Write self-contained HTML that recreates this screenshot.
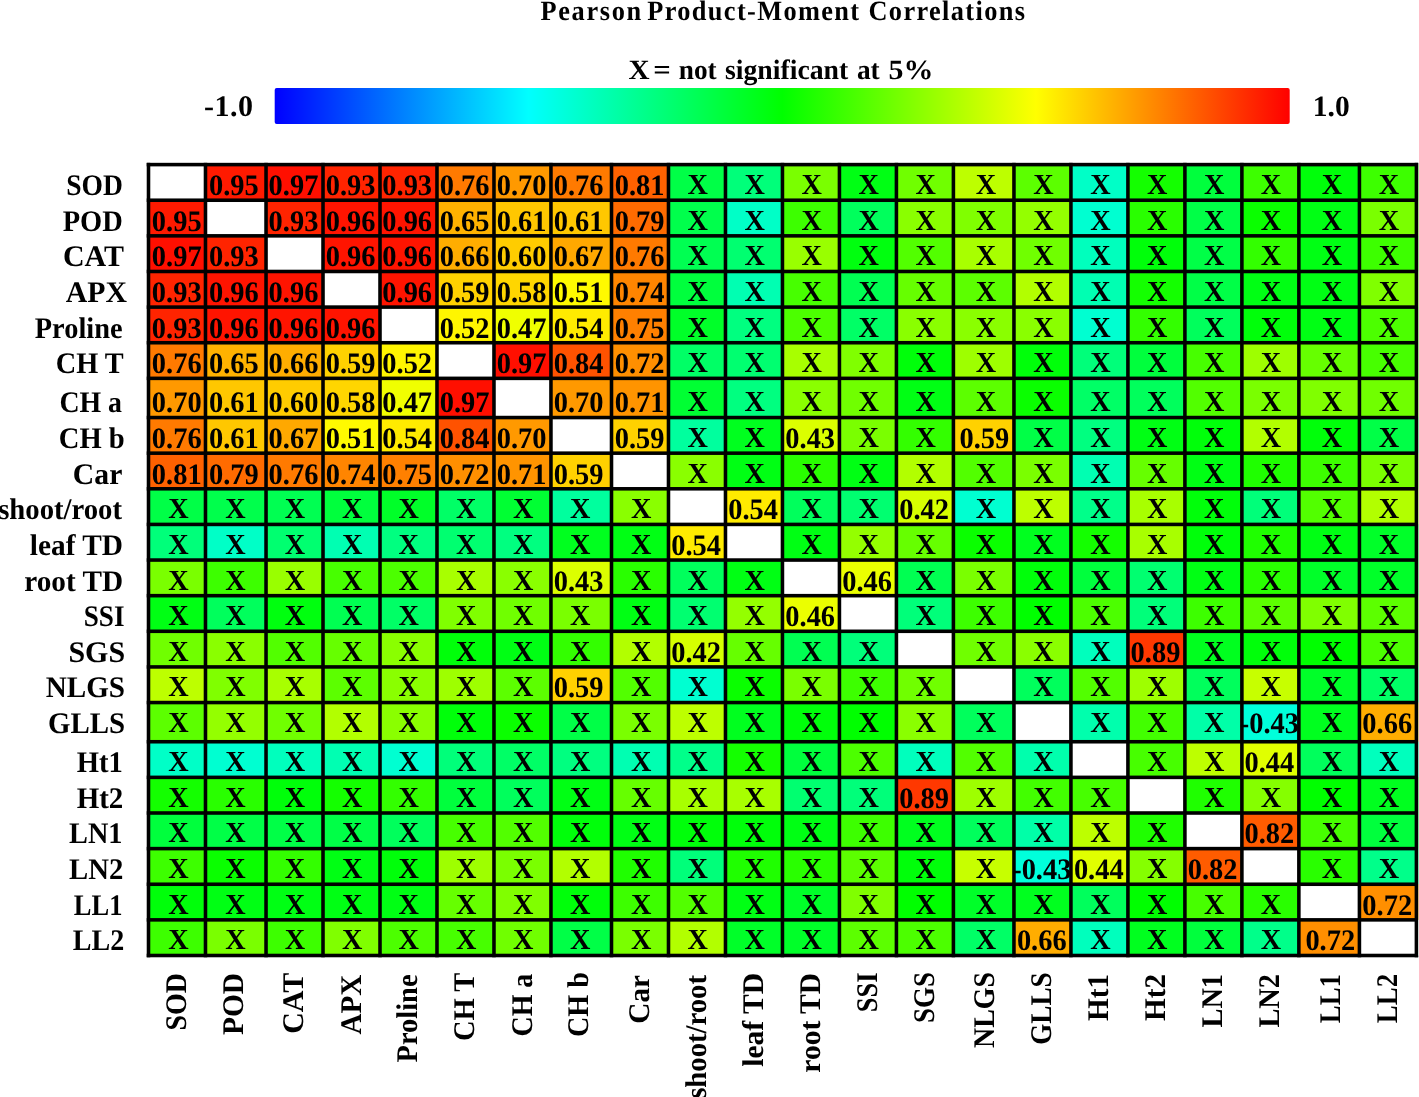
<!DOCTYPE html><html><head><meta charset="utf-8"><style>html,body{margin:0;padding:0;background:#fff;width:1419px;height:1097px;overflow:hidden}svg{display:block}text{font-family:"Liberation Serif",serif;font-weight:bold}</style></head><body>
<svg style="will-change:transform" width="1419" height="1097" viewBox="0 0 1419 1097" text-rendering="geometricPrecision" font-size="28">
<text transform="translate(540.46,19.8) scale(0.94,1)" letter-spacing="1.791">Pearson</text>
<text transform="translate(647.26,19.8) scale(0.94,1)" letter-spacing="1.465">Product-Moment</text>
<text transform="translate(868.46,19.8) scale(0.94,1)" letter-spacing="1.464">Correlations</text>
<text transform="translate(628.46,78.9) scale(1.042,1)">X</text>
<text transform="translate(653.20,78.9) scale(1.100,1)">=</text>
<text transform="translate(678.83,78.9) scale(0.973,1)">not</text>
<text transform="translate(725.01,78.9) scale(0.990,1)">significant</text>
<text transform="translate(856.92,78.9) scale(0.977,1)">at</text>
<text transform="translate(888.43,78.9) scale(1.068,1)">5%</text>
<defs><linearGradient id="cb" x1="0" x2="1" y1="0" y2="0"><stop offset="0" stop-color="#0000ff"/><stop offset="0.25" stop-color="#00ffff"/><stop offset="0.5" stop-color="#00ff00"/><stop offset="0.75" stop-color="#ffff00"/><stop offset="1" stop-color="#ff0000"/></linearGradient></defs>
<rect x="274.7" y="88" width="1015" height="35.9" rx="2" fill="url(#cb)"/>
<text x="253.5" y="116.4" font-size="30" text-anchor="end" letter-spacing="0.5">-1.0</text>
<text x="1312.8" y="116.3" font-size="29.5">1.0</text>
<rect x="148.50" y="164.60" width="56.98" height="35.63" fill="#ffffff"/>
<rect x="205.48" y="164.60" width="60.55" height="35.63" fill="rgb(255,26,0)"/>
<rect x="266.03" y="164.60" width="56.98" height="35.63" fill="rgb(255,15,0)"/>
<rect x="323.01" y="164.60" width="56.98" height="35.63" fill="rgb(255,36,0)"/>
<rect x="380.00" y="164.60" width="56.98" height="35.63" fill="rgb(255,36,0)"/>
<rect x="436.98" y="164.60" width="56.98" height="35.63" fill="rgb(255,122,0)"/>
<rect x="493.97" y="164.60" width="56.98" height="35.63" fill="rgb(255,153,0)"/>
<rect x="550.95" y="164.60" width="60.55" height="35.63" fill="rgb(255,122,0)"/>
<rect x="611.50" y="164.60" width="56.98" height="35.63" fill="rgb(255,97,0)"/>
<rect x="668.48" y="164.60" width="56.98" height="35.63" fill="rgb(0,255,71)"/>
<rect x="725.47" y="164.60" width="56.98" height="35.63" fill="rgb(0,255,122)"/>
<rect x="782.45" y="164.60" width="56.98" height="35.63" fill="rgb(122,255,0)"/>
<rect x="839.43" y="164.60" width="56.98" height="35.63" fill="rgb(0,255,20)"/>
<rect x="896.42" y="164.60" width="56.98" height="35.63" fill="rgb(112,255,0)"/>
<rect x="953.40" y="164.60" width="60.55" height="35.63" fill="rgb(189,255,0)"/>
<rect x="1013.95" y="164.60" width="56.98" height="35.63" fill="rgb(92,255,0)"/>
<rect x="1070.93" y="164.60" width="56.98" height="35.63" fill="rgb(0,255,199)"/>
<rect x="1127.92" y="164.60" width="56.98" height="35.63" fill="rgb(20,255,0)"/>
<rect x="1184.90" y="164.60" width="56.98" height="35.63" fill="rgb(0,255,61)"/>
<rect x="1241.89" y="164.60" width="56.98" height="35.63" fill="rgb(61,255,0)"/>
<rect x="1298.87" y="164.60" width="60.55" height="35.63" fill="rgb(0,255,10)"/>
<rect x="1359.42" y="164.60" width="56.98" height="35.63" fill="rgb(61,255,0)"/>
<rect x="148.50" y="200.23" width="56.98" height="35.63" fill="rgb(255,26,0)"/>
<rect x="205.48" y="200.23" width="60.55" height="35.63" fill="#ffffff"/>
<rect x="266.03" y="200.23" width="56.98" height="35.63" fill="rgb(255,36,0)"/>
<rect x="323.01" y="200.23" width="56.98" height="35.63" fill="rgb(255,20,0)"/>
<rect x="380.00" y="200.23" width="56.98" height="35.63" fill="rgb(255,20,0)"/>
<rect x="436.98" y="200.23" width="56.98" height="35.63" fill="rgb(255,178,0)"/>
<rect x="493.97" y="200.23" width="56.98" height="35.63" fill="rgb(255,199,0)"/>
<rect x="550.95" y="200.23" width="60.55" height="35.63" fill="rgb(255,199,0)"/>
<rect x="611.50" y="200.23" width="56.98" height="35.63" fill="rgb(255,107,0)"/>
<rect x="668.48" y="200.23" width="56.98" height="35.63" fill="rgb(0,255,76)"/>
<rect x="725.47" y="200.23" width="56.98" height="35.63" fill="rgb(0,255,199)"/>
<rect x="782.45" y="200.23" width="56.98" height="35.63" fill="rgb(61,255,0)"/>
<rect x="839.43" y="200.23" width="56.98" height="35.63" fill="rgb(0,255,92)"/>
<rect x="896.42" y="200.23" width="56.98" height="35.63" fill="rgb(138,255,0)"/>
<rect x="953.40" y="200.23" width="60.55" height="35.63" fill="rgb(128,255,0)"/>
<rect x="1013.95" y="200.23" width="56.98" height="35.63" fill="rgb(148,255,0)"/>
<rect x="1070.93" y="200.23" width="56.98" height="35.63" fill="rgb(0,255,209)"/>
<rect x="1127.92" y="200.23" width="56.98" height="35.63" fill="rgb(41,255,0)"/>
<rect x="1184.90" y="200.23" width="56.98" height="35.63" fill="rgb(0,255,71)"/>
<rect x="1241.89" y="200.23" width="56.98" height="35.63" fill="rgb(10,255,0)"/>
<rect x="1298.87" y="200.23" width="60.55" height="35.63" fill="rgb(0,255,20)"/>
<rect x="1359.42" y="200.23" width="56.98" height="35.63" fill="rgb(122,255,0)"/>
<rect x="148.50" y="235.85" width="56.98" height="35.63" fill="rgb(255,15,0)"/>
<rect x="205.48" y="235.85" width="60.55" height="35.63" fill="rgb(255,36,0)"/>
<rect x="266.03" y="235.85" width="56.98" height="35.63" fill="#ffffff"/>
<rect x="323.01" y="235.85" width="56.98" height="35.63" fill="rgb(255,20,0)"/>
<rect x="380.00" y="235.85" width="56.98" height="35.63" fill="rgb(255,20,0)"/>
<rect x="436.98" y="235.85" width="56.98" height="35.63" fill="rgb(255,173,0)"/>
<rect x="493.97" y="235.85" width="56.98" height="35.63" fill="rgb(255,204,0)"/>
<rect x="550.95" y="235.85" width="60.55" height="35.63" fill="rgb(255,168,0)"/>
<rect x="611.50" y="235.85" width="56.98" height="35.63" fill="rgb(255,122,0)"/>
<rect x="668.48" y="235.85" width="56.98" height="35.63" fill="rgb(0,255,82)"/>
<rect x="725.47" y="235.85" width="56.98" height="35.63" fill="rgb(0,255,112)"/>
<rect x="782.45" y="235.85" width="56.98" height="35.63" fill="rgb(153,255,0)"/>
<rect x="839.43" y="235.85" width="56.98" height="35.63" fill="rgb(0,255,15)"/>
<rect x="896.42" y="235.85" width="56.98" height="35.63" fill="rgb(82,255,0)"/>
<rect x="953.40" y="235.85" width="60.55" height="35.63" fill="rgb(168,255,0)"/>
<rect x="1013.95" y="235.85" width="56.98" height="35.63" fill="rgb(112,255,0)"/>
<rect x="1070.93" y="235.85" width="56.98" height="35.63" fill="rgb(0,255,189)"/>
<rect x="1127.92" y="235.85" width="56.98" height="35.63" fill="rgb(0,255,10)"/>
<rect x="1184.90" y="235.85" width="56.98" height="35.63" fill="rgb(0,255,71)"/>
<rect x="1241.89" y="235.85" width="56.98" height="35.63" fill="rgb(51,255,0)"/>
<rect x="1298.87" y="235.85" width="60.55" height="35.63" fill="rgb(0,255,20)"/>
<rect x="1359.42" y="235.85" width="56.98" height="35.63" fill="rgb(61,255,0)"/>
<rect x="148.50" y="271.48" width="56.98" height="35.63" fill="rgb(255,36,0)"/>
<rect x="205.48" y="271.48" width="60.55" height="35.63" fill="rgb(255,20,0)"/>
<rect x="266.03" y="271.48" width="56.98" height="35.63" fill="rgb(255,20,0)"/>
<rect x="323.01" y="271.48" width="56.98" height="35.63" fill="#ffffff"/>
<rect x="380.00" y="271.48" width="56.98" height="35.63" fill="rgb(255,20,0)"/>
<rect x="436.98" y="271.48" width="56.98" height="35.63" fill="rgb(255,209,0)"/>
<rect x="493.97" y="271.48" width="56.98" height="35.63" fill="rgb(255,214,0)"/>
<rect x="550.95" y="271.48" width="60.55" height="35.63" fill="rgb(255,250,0)"/>
<rect x="611.50" y="271.48" width="56.98" height="35.63" fill="rgb(255,133,0)"/>
<rect x="668.48" y="271.48" width="56.98" height="35.63" fill="rgb(0,255,61)"/>
<rect x="725.47" y="271.48" width="56.98" height="35.63" fill="rgb(0,255,178)"/>
<rect x="782.45" y="271.48" width="56.98" height="35.63" fill="rgb(71,255,0)"/>
<rect x="839.43" y="271.48" width="56.98" height="35.63" fill="rgb(0,255,82)"/>
<rect x="896.42" y="271.48" width="56.98" height="35.63" fill="rgb(102,255,0)"/>
<rect x="953.40" y="271.48" width="60.55" height="35.63" fill="rgb(92,255,0)"/>
<rect x="1013.95" y="271.48" width="56.98" height="35.63" fill="rgb(178,255,0)"/>
<rect x="1070.93" y="271.48" width="56.98" height="35.63" fill="rgb(0,255,178)"/>
<rect x="1127.92" y="271.48" width="56.98" height="35.63" fill="rgb(20,255,0)"/>
<rect x="1184.90" y="271.48" width="56.98" height="35.63" fill="rgb(0,255,71)"/>
<rect x="1241.89" y="271.48" width="56.98" height="35.63" fill="rgb(0,255,20)"/>
<rect x="1298.87" y="271.48" width="60.55" height="35.63" fill="rgb(0,255,20)"/>
<rect x="1359.42" y="271.48" width="56.98" height="35.63" fill="rgb(128,255,0)"/>
<rect x="148.50" y="307.10" width="56.98" height="35.63" fill="rgb(255,36,0)"/>
<rect x="205.48" y="307.10" width="60.55" height="35.63" fill="rgb(255,20,0)"/>
<rect x="266.03" y="307.10" width="56.98" height="35.63" fill="rgb(255,20,0)"/>
<rect x="323.01" y="307.10" width="56.98" height="35.63" fill="rgb(255,20,0)"/>
<rect x="380.00" y="307.10" width="56.98" height="35.63" fill="#ffffff"/>
<rect x="436.98" y="307.10" width="56.98" height="35.63" fill="rgb(255,245,0)"/>
<rect x="493.97" y="307.10" width="56.98" height="35.63" fill="rgb(240,255,0)"/>
<rect x="550.95" y="307.10" width="60.55" height="35.63" fill="rgb(255,235,0)"/>
<rect x="611.50" y="307.10" width="56.98" height="35.63" fill="rgb(255,128,0)"/>
<rect x="668.48" y="307.10" width="56.98" height="35.63" fill="rgb(0,255,41)"/>
<rect x="725.47" y="307.10" width="56.98" height="35.63" fill="rgb(0,255,128)"/>
<rect x="782.45" y="307.10" width="56.98" height="35.63" fill="rgb(76,255,0)"/>
<rect x="839.43" y="307.10" width="56.98" height="35.63" fill="rgb(0,255,102)"/>
<rect x="896.42" y="307.10" width="56.98" height="35.63" fill="rgb(138,255,0)"/>
<rect x="953.40" y="307.10" width="60.55" height="35.63" fill="rgb(138,255,0)"/>
<rect x="1013.95" y="307.10" width="56.98" height="35.63" fill="rgb(138,255,0)"/>
<rect x="1070.93" y="307.10" width="56.98" height="35.63" fill="rgb(0,255,209)"/>
<rect x="1127.92" y="307.10" width="56.98" height="35.63" fill="rgb(51,255,0)"/>
<rect x="1184.90" y="307.10" width="56.98" height="35.63" fill="rgb(0,255,92)"/>
<rect x="1241.89" y="307.10" width="56.98" height="35.63" fill="rgb(0,255,10)"/>
<rect x="1298.87" y="307.10" width="60.55" height="35.63" fill="rgb(0,255,20)"/>
<rect x="1359.42" y="307.10" width="56.98" height="35.63" fill="rgb(76,255,0)"/>
<rect x="148.50" y="342.73" width="56.98" height="35.63" fill="rgb(255,122,0)"/>
<rect x="205.48" y="342.73" width="60.55" height="35.63" fill="rgb(255,178,0)"/>
<rect x="266.03" y="342.73" width="56.98" height="35.63" fill="rgb(255,173,0)"/>
<rect x="323.01" y="342.73" width="56.98" height="35.63" fill="rgb(255,209,0)"/>
<rect x="380.00" y="342.73" width="56.98" height="35.63" fill="rgb(255,245,0)"/>
<rect x="436.98" y="342.73" width="56.98" height="35.63" fill="#ffffff"/>
<rect x="493.97" y="342.73" width="56.98" height="35.63" fill="rgb(255,15,0)"/>
<rect x="550.95" y="342.73" width="60.55" height="35.63" fill="rgb(255,82,0)"/>
<rect x="611.50" y="342.73" width="56.98" height="35.63" fill="rgb(255,143,0)"/>
<rect x="668.48" y="342.73" width="56.98" height="35.63" fill="rgb(0,255,102)"/>
<rect x="725.47" y="342.73" width="56.98" height="35.63" fill="rgb(0,255,112)"/>
<rect x="782.45" y="342.73" width="56.98" height="35.63" fill="rgb(168,255,0)"/>
<rect x="839.43" y="342.73" width="56.98" height="35.63" fill="rgb(128,255,0)"/>
<rect x="896.42" y="342.73" width="56.98" height="35.63" fill="rgb(0,255,10)"/>
<rect x="953.40" y="342.73" width="60.55" height="35.63" fill="rgb(158,255,0)"/>
<rect x="1013.95" y="342.73" width="56.98" height="35.63" fill="rgb(0,255,10)"/>
<rect x="1070.93" y="342.73" width="56.98" height="35.63" fill="rgb(0,255,122)"/>
<rect x="1127.92" y="342.73" width="56.98" height="35.63" fill="rgb(0,255,61)"/>
<rect x="1184.90" y="342.73" width="56.98" height="35.63" fill="rgb(71,255,0)"/>
<rect x="1241.89" y="342.73" width="56.98" height="35.63" fill="rgb(158,255,0)"/>
<rect x="1298.87" y="342.73" width="60.55" height="35.63" fill="rgb(102,255,0)"/>
<rect x="1359.42" y="342.73" width="56.98" height="35.63" fill="rgb(71,255,0)"/>
<rect x="148.50" y="378.36" width="56.98" height="39.19" fill="rgb(255,153,0)"/>
<rect x="205.48" y="378.36" width="60.55" height="39.19" fill="rgb(255,199,0)"/>
<rect x="266.03" y="378.36" width="56.98" height="39.19" fill="rgb(255,204,0)"/>
<rect x="323.01" y="378.36" width="56.98" height="39.19" fill="rgb(255,214,0)"/>
<rect x="380.00" y="378.36" width="56.98" height="39.19" fill="rgb(240,255,0)"/>
<rect x="436.98" y="378.36" width="56.98" height="39.19" fill="rgb(255,15,0)"/>
<rect x="493.97" y="378.36" width="56.98" height="39.19" fill="#ffffff"/>
<rect x="550.95" y="378.36" width="60.55" height="39.19" fill="rgb(255,153,0)"/>
<rect x="611.50" y="378.36" width="56.98" height="39.19" fill="rgb(255,148,0)"/>
<rect x="668.48" y="378.36" width="56.98" height="39.19" fill="rgb(0,255,51)"/>
<rect x="725.47" y="378.36" width="56.98" height="39.19" fill="rgb(0,255,128)"/>
<rect x="782.45" y="378.36" width="56.98" height="39.19" fill="rgb(138,255,0)"/>
<rect x="839.43" y="378.36" width="56.98" height="39.19" fill="rgb(112,255,0)"/>
<rect x="896.42" y="378.36" width="56.98" height="39.19" fill="rgb(0,255,20)"/>
<rect x="953.40" y="378.36" width="60.55" height="39.19" fill="rgb(92,255,0)"/>
<rect x="1013.95" y="378.36" width="56.98" height="39.19" fill="rgb(10,255,0)"/>
<rect x="1070.93" y="378.36" width="56.98" height="39.19" fill="rgb(0,255,102)"/>
<rect x="1127.92" y="378.36" width="56.98" height="39.19" fill="rgb(0,255,92)"/>
<rect x="1184.90" y="378.36" width="56.98" height="39.19" fill="rgb(82,255,0)"/>
<rect x="1241.89" y="378.36" width="56.98" height="39.19" fill="rgb(122,255,0)"/>
<rect x="1298.87" y="378.36" width="60.55" height="39.19" fill="rgb(128,255,0)"/>
<rect x="1359.42" y="378.36" width="56.98" height="39.19" fill="rgb(112,255,0)"/>
<rect x="148.50" y="417.55" width="56.98" height="35.63" fill="rgb(255,122,0)"/>
<rect x="205.48" y="417.55" width="60.55" height="35.63" fill="rgb(255,199,0)"/>
<rect x="266.03" y="417.55" width="56.98" height="35.63" fill="rgb(255,168,0)"/>
<rect x="323.01" y="417.55" width="56.98" height="35.63" fill="rgb(255,250,0)"/>
<rect x="380.00" y="417.55" width="56.98" height="35.63" fill="rgb(255,235,0)"/>
<rect x="436.98" y="417.55" width="56.98" height="35.63" fill="rgb(255,82,0)"/>
<rect x="493.97" y="417.55" width="56.98" height="35.63" fill="rgb(255,153,0)"/>
<rect x="550.95" y="417.55" width="60.55" height="35.63" fill="#ffffff"/>
<rect x="611.50" y="417.55" width="56.98" height="35.63" fill="rgb(255,209,0)"/>
<rect x="668.48" y="417.55" width="56.98" height="35.63" fill="rgb(0,255,158)"/>
<rect x="725.47" y="417.55" width="56.98" height="35.63" fill="rgb(0,255,31)"/>
<rect x="782.45" y="417.55" width="56.98" height="35.63" fill="rgb(219,255,0)"/>
<rect x="839.43" y="417.55" width="56.98" height="35.63" fill="rgb(122,255,0)"/>
<rect x="896.42" y="417.55" width="56.98" height="35.63" fill="rgb(51,255,0)"/>
<rect x="953.40" y="417.55" width="60.55" height="35.63" fill="rgb(255,209,0)"/>
<rect x="1013.95" y="417.55" width="56.98" height="35.63" fill="rgb(0,255,71)"/>
<rect x="1070.93" y="417.55" width="56.98" height="35.63" fill="rgb(0,255,128)"/>
<rect x="1127.92" y="417.55" width="56.98" height="35.63" fill="rgb(0,255,20)"/>
<rect x="1184.90" y="417.55" width="56.98" height="35.63" fill="rgb(0,255,10)"/>
<rect x="1241.89" y="417.55" width="56.98" height="35.63" fill="rgb(178,255,0)"/>
<rect x="1298.87" y="417.55" width="60.55" height="35.63" fill="rgb(0,255,10)"/>
<rect x="1359.42" y="417.55" width="56.98" height="35.63" fill="rgb(0,255,71)"/>
<rect x="148.50" y="453.17" width="56.98" height="35.63" fill="rgb(255,97,0)"/>
<rect x="205.48" y="453.17" width="60.55" height="35.63" fill="rgb(255,107,0)"/>
<rect x="266.03" y="453.17" width="56.98" height="35.63" fill="rgb(255,122,0)"/>
<rect x="323.01" y="453.17" width="56.98" height="35.63" fill="rgb(255,133,0)"/>
<rect x="380.00" y="453.17" width="56.98" height="35.63" fill="rgb(255,128,0)"/>
<rect x="436.98" y="453.17" width="56.98" height="35.63" fill="rgb(255,143,0)"/>
<rect x="493.97" y="453.17" width="56.98" height="35.63" fill="rgb(255,148,0)"/>
<rect x="550.95" y="453.17" width="60.55" height="35.63" fill="rgb(255,209,0)"/>
<rect x="611.50" y="453.17" width="56.98" height="35.63" fill="#ffffff"/>
<rect x="668.48" y="453.17" width="56.98" height="35.63" fill="rgb(138,255,0)"/>
<rect x="725.47" y="453.17" width="56.98" height="35.63" fill="rgb(0,255,20)"/>
<rect x="782.45" y="453.17" width="56.98" height="35.63" fill="rgb(41,255,0)"/>
<rect x="839.43" y="453.17" width="56.98" height="35.63" fill="rgb(0,255,20)"/>
<rect x="896.42" y="453.17" width="56.98" height="35.63" fill="rgb(178,255,0)"/>
<rect x="953.40" y="453.17" width="60.55" height="35.63" fill="rgb(82,255,0)"/>
<rect x="1013.95" y="453.17" width="56.98" height="35.63" fill="rgb(122,255,0)"/>
<rect x="1070.93" y="453.17" width="56.98" height="35.63" fill="rgb(0,255,178)"/>
<rect x="1127.92" y="453.17" width="56.98" height="35.63" fill="rgb(102,255,0)"/>
<rect x="1184.90" y="453.17" width="56.98" height="35.63" fill="rgb(0,255,20)"/>
<rect x="1241.89" y="453.17" width="56.98" height="35.63" fill="rgb(31,255,0)"/>
<rect x="1298.87" y="453.17" width="60.55" height="35.63" fill="rgb(61,255,0)"/>
<rect x="1359.42" y="453.17" width="56.98" height="35.63" fill="rgb(122,255,0)"/>
<rect x="148.50" y="488.80" width="56.98" height="35.63" fill="rgb(0,255,71)"/>
<rect x="205.48" y="488.80" width="60.55" height="35.63" fill="rgb(0,255,76)"/>
<rect x="266.03" y="488.80" width="56.98" height="35.63" fill="rgb(0,255,82)"/>
<rect x="323.01" y="488.80" width="56.98" height="35.63" fill="rgb(0,255,61)"/>
<rect x="380.00" y="488.80" width="56.98" height="35.63" fill="rgb(0,255,41)"/>
<rect x="436.98" y="488.80" width="56.98" height="35.63" fill="rgb(0,255,102)"/>
<rect x="493.97" y="488.80" width="56.98" height="35.63" fill="rgb(0,255,51)"/>
<rect x="550.95" y="488.80" width="60.55" height="35.63" fill="rgb(0,255,158)"/>
<rect x="611.50" y="488.80" width="56.98" height="35.63" fill="rgb(138,255,0)"/>
<rect x="668.48" y="488.80" width="56.98" height="35.63" fill="#ffffff"/>
<rect x="725.47" y="488.80" width="56.98" height="35.63" fill="rgb(255,235,0)"/>
<rect x="782.45" y="488.80" width="56.98" height="35.63" fill="rgb(0,255,92)"/>
<rect x="839.43" y="488.80" width="56.98" height="35.63" fill="rgb(0,255,112)"/>
<rect x="896.42" y="488.80" width="56.98" height="35.63" fill="rgb(214,255,0)"/>
<rect x="953.40" y="488.80" width="60.55" height="35.63" fill="rgb(0,255,209)"/>
<rect x="1013.95" y="488.80" width="56.98" height="35.63" fill="rgb(189,255,0)"/>
<rect x="1070.93" y="488.80" width="56.98" height="35.63" fill="rgb(0,255,138)"/>
<rect x="1127.92" y="488.80" width="56.98" height="35.63" fill="rgb(168,255,0)"/>
<rect x="1184.90" y="488.80" width="56.98" height="35.63" fill="rgb(0,255,10)"/>
<rect x="1241.89" y="488.80" width="56.98" height="35.63" fill="rgb(0,255,122)"/>
<rect x="1298.87" y="488.80" width="60.55" height="35.63" fill="rgb(82,255,0)"/>
<rect x="1359.42" y="488.80" width="56.98" height="35.63" fill="rgb(178,255,0)"/>
<rect x="148.50" y="524.42" width="56.98" height="35.63" fill="rgb(0,255,122)"/>
<rect x="205.48" y="524.42" width="60.55" height="35.63" fill="rgb(0,255,199)"/>
<rect x="266.03" y="524.42" width="56.98" height="35.63" fill="rgb(0,255,112)"/>
<rect x="323.01" y="524.42" width="56.98" height="35.63" fill="rgb(0,255,178)"/>
<rect x="380.00" y="524.42" width="56.98" height="35.63" fill="rgb(0,255,128)"/>
<rect x="436.98" y="524.42" width="56.98" height="35.63" fill="rgb(0,255,112)"/>
<rect x="493.97" y="524.42" width="56.98" height="35.63" fill="rgb(0,255,128)"/>
<rect x="550.95" y="524.42" width="60.55" height="35.63" fill="rgb(0,255,31)"/>
<rect x="611.50" y="524.42" width="56.98" height="35.63" fill="rgb(0,255,20)"/>
<rect x="668.48" y="524.42" width="56.98" height="35.63" fill="rgb(255,235,0)"/>
<rect x="725.47" y="524.42" width="56.98" height="35.63" fill="#ffffff"/>
<rect x="782.45" y="524.42" width="56.98" height="35.63" fill="rgb(0,255,20)"/>
<rect x="839.43" y="524.42" width="56.98" height="35.63" fill="rgb(148,255,0)"/>
<rect x="896.42" y="524.42" width="56.98" height="35.63" fill="rgb(102,255,0)"/>
<rect x="953.40" y="524.42" width="60.55" height="35.63" fill="rgb(10,255,0)"/>
<rect x="1013.95" y="524.42" width="56.98" height="35.63" fill="rgb(0,255,31)"/>
<rect x="1070.93" y="524.42" width="56.98" height="35.63" fill="rgb(20,255,0)"/>
<rect x="1127.92" y="524.42" width="56.98" height="35.63" fill="rgb(168,255,0)"/>
<rect x="1184.90" y="524.42" width="56.98" height="35.63" fill="rgb(0,255,10)"/>
<rect x="1241.89" y="524.42" width="56.98" height="35.63" fill="rgb(31,255,0)"/>
<rect x="1298.87" y="524.42" width="60.55" height="35.63" fill="rgb(0,255,20)"/>
<rect x="1359.42" y="524.42" width="56.98" height="35.63" fill="rgb(0,255,41)"/>
<rect x="148.50" y="560.05" width="56.98" height="35.63" fill="rgb(122,255,0)"/>
<rect x="205.48" y="560.05" width="60.55" height="35.63" fill="rgb(61,255,0)"/>
<rect x="266.03" y="560.05" width="56.98" height="35.63" fill="rgb(153,255,0)"/>
<rect x="323.01" y="560.05" width="56.98" height="35.63" fill="rgb(71,255,0)"/>
<rect x="380.00" y="560.05" width="56.98" height="35.63" fill="rgb(76,255,0)"/>
<rect x="436.98" y="560.05" width="56.98" height="35.63" fill="rgb(168,255,0)"/>
<rect x="493.97" y="560.05" width="56.98" height="35.63" fill="rgb(138,255,0)"/>
<rect x="550.95" y="560.05" width="60.55" height="35.63" fill="rgb(219,255,0)"/>
<rect x="611.50" y="560.05" width="56.98" height="35.63" fill="rgb(41,255,0)"/>
<rect x="668.48" y="560.05" width="56.98" height="35.63" fill="rgb(0,255,92)"/>
<rect x="725.47" y="560.05" width="56.98" height="35.63" fill="rgb(0,255,20)"/>
<rect x="782.45" y="560.05" width="56.98" height="35.63" fill="#ffffff"/>
<rect x="839.43" y="560.05" width="56.98" height="35.63" fill="rgb(235,255,0)"/>
<rect x="896.42" y="560.05" width="56.98" height="35.63" fill="rgb(0,255,82)"/>
<rect x="953.40" y="560.05" width="60.55" height="35.63" fill="rgb(122,255,0)"/>
<rect x="1013.95" y="560.05" width="56.98" height="35.63" fill="rgb(0,255,10)"/>
<rect x="1070.93" y="560.05" width="56.98" height="35.63" fill="rgb(0,255,61)"/>
<rect x="1127.92" y="560.05" width="56.98" height="35.63" fill="rgb(0,255,112)"/>
<rect x="1184.90" y="560.05" width="56.98" height="35.63" fill="rgb(0,255,20)"/>
<rect x="1241.89" y="560.05" width="56.98" height="35.63" fill="rgb(41,255,0)"/>
<rect x="1298.87" y="560.05" width="60.55" height="35.63" fill="rgb(0,255,41)"/>
<rect x="1359.42" y="560.05" width="56.98" height="35.63" fill="rgb(0,255,41)"/>
<rect x="148.50" y="595.68" width="56.98" height="35.63" fill="rgb(0,255,20)"/>
<rect x="205.48" y="595.68" width="60.55" height="35.63" fill="rgb(0,255,92)"/>
<rect x="266.03" y="595.68" width="56.98" height="35.63" fill="rgb(0,255,15)"/>
<rect x="323.01" y="595.68" width="56.98" height="35.63" fill="rgb(0,255,82)"/>
<rect x="380.00" y="595.68" width="56.98" height="35.63" fill="rgb(0,255,102)"/>
<rect x="436.98" y="595.68" width="56.98" height="35.63" fill="rgb(128,255,0)"/>
<rect x="493.97" y="595.68" width="56.98" height="35.63" fill="rgb(112,255,0)"/>
<rect x="550.95" y="595.68" width="60.55" height="35.63" fill="rgb(122,255,0)"/>
<rect x="611.50" y="595.68" width="56.98" height="35.63" fill="rgb(0,255,20)"/>
<rect x="668.48" y="595.68" width="56.98" height="35.63" fill="rgb(0,255,112)"/>
<rect x="725.47" y="595.68" width="56.98" height="35.63" fill="rgb(148,255,0)"/>
<rect x="782.45" y="595.68" width="56.98" height="35.63" fill="rgb(235,255,0)"/>
<rect x="839.43" y="595.68" width="56.98" height="35.63" fill="#ffffff"/>
<rect x="896.42" y="595.68" width="56.98" height="35.63" fill="rgb(0,255,122)"/>
<rect x="953.40" y="595.68" width="60.55" height="35.63" fill="rgb(61,255,0)"/>
<rect x="1013.95" y="595.68" width="56.98" height="35.63" fill="rgb(0,255,0)"/>
<rect x="1070.93" y="595.68" width="56.98" height="35.63" fill="rgb(76,255,0)"/>
<rect x="1127.92" y="595.68" width="56.98" height="35.63" fill="rgb(0,255,122)"/>
<rect x="1184.90" y="595.68" width="56.98" height="35.63" fill="rgb(61,255,0)"/>
<rect x="1241.89" y="595.68" width="56.98" height="35.63" fill="rgb(92,255,0)"/>
<rect x="1298.87" y="595.68" width="60.55" height="35.63" fill="rgb(128,255,0)"/>
<rect x="1359.42" y="595.68" width="56.98" height="35.63" fill="rgb(92,255,0)"/>
<rect x="148.50" y="631.30" width="56.98" height="35.63" fill="rgb(112,255,0)"/>
<rect x="205.48" y="631.30" width="60.55" height="35.63" fill="rgb(138,255,0)"/>
<rect x="266.03" y="631.30" width="56.98" height="35.63" fill="rgb(82,255,0)"/>
<rect x="323.01" y="631.30" width="56.98" height="35.63" fill="rgb(102,255,0)"/>
<rect x="380.00" y="631.30" width="56.98" height="35.63" fill="rgb(138,255,0)"/>
<rect x="436.98" y="631.30" width="56.98" height="35.63" fill="rgb(0,255,10)"/>
<rect x="493.97" y="631.30" width="56.98" height="35.63" fill="rgb(0,255,20)"/>
<rect x="550.95" y="631.30" width="60.55" height="35.63" fill="rgb(51,255,0)"/>
<rect x="611.50" y="631.30" width="56.98" height="35.63" fill="rgb(178,255,0)"/>
<rect x="668.48" y="631.30" width="56.98" height="35.63" fill="rgb(214,255,0)"/>
<rect x="725.47" y="631.30" width="56.98" height="35.63" fill="rgb(102,255,0)"/>
<rect x="782.45" y="631.30" width="56.98" height="35.63" fill="rgb(0,255,82)"/>
<rect x="839.43" y="631.30" width="56.98" height="35.63" fill="rgb(0,255,122)"/>
<rect x="896.42" y="631.30" width="56.98" height="35.63" fill="#ffffff"/>
<rect x="953.40" y="631.30" width="60.55" height="35.63" fill="rgb(112,255,0)"/>
<rect x="1013.95" y="631.30" width="56.98" height="35.63" fill="rgb(138,255,0)"/>
<rect x="1070.93" y="631.30" width="56.98" height="35.63" fill="rgb(0,255,189)"/>
<rect x="1127.92" y="631.30" width="56.98" height="35.63" fill="rgb(255,56,0)"/>
<rect x="1184.90" y="631.30" width="56.98" height="35.63" fill="rgb(0,255,31)"/>
<rect x="1241.89" y="631.30" width="56.98" height="35.63" fill="rgb(0,255,10)"/>
<rect x="1298.87" y="631.30" width="60.55" height="35.63" fill="rgb(0,255,0)"/>
<rect x="1359.42" y="631.30" width="56.98" height="35.63" fill="rgb(76,255,0)"/>
<rect x="148.50" y="666.93" width="56.98" height="35.63" fill="rgb(189,255,0)"/>
<rect x="205.48" y="666.93" width="60.55" height="35.63" fill="rgb(128,255,0)"/>
<rect x="266.03" y="666.93" width="56.98" height="35.63" fill="rgb(168,255,0)"/>
<rect x="323.01" y="666.93" width="56.98" height="35.63" fill="rgb(92,255,0)"/>
<rect x="380.00" y="666.93" width="56.98" height="35.63" fill="rgb(138,255,0)"/>
<rect x="436.98" y="666.93" width="56.98" height="35.63" fill="rgb(158,255,0)"/>
<rect x="493.97" y="666.93" width="56.98" height="35.63" fill="rgb(92,255,0)"/>
<rect x="550.95" y="666.93" width="60.55" height="35.63" fill="rgb(255,209,0)"/>
<rect x="611.50" y="666.93" width="56.98" height="35.63" fill="rgb(82,255,0)"/>
<rect x="668.48" y="666.93" width="56.98" height="35.63" fill="rgb(0,255,209)"/>
<rect x="725.47" y="666.93" width="56.98" height="35.63" fill="rgb(10,255,0)"/>
<rect x="782.45" y="666.93" width="56.98" height="35.63" fill="rgb(122,255,0)"/>
<rect x="839.43" y="666.93" width="56.98" height="35.63" fill="rgb(61,255,0)"/>
<rect x="896.42" y="666.93" width="56.98" height="35.63" fill="rgb(112,255,0)"/>
<rect x="953.40" y="666.93" width="60.55" height="35.63" fill="#ffffff"/>
<rect x="1013.95" y="666.93" width="56.98" height="35.63" fill="rgb(0,255,92)"/>
<rect x="1070.93" y="666.93" width="56.98" height="35.63" fill="rgb(82,255,0)"/>
<rect x="1127.92" y="666.93" width="56.98" height="35.63" fill="rgb(158,255,0)"/>
<rect x="1184.90" y="666.93" width="56.98" height="35.63" fill="rgb(0,255,92)"/>
<rect x="1241.89" y="666.93" width="56.98" height="35.63" fill="rgb(199,255,0)"/>
<rect x="1298.87" y="666.93" width="60.55" height="35.63" fill="rgb(0,255,41)"/>
<rect x="1359.42" y="666.93" width="56.98" height="35.63" fill="rgb(0,255,102)"/>
<rect x="148.50" y="702.55" width="56.98" height="39.19" fill="rgb(92,255,0)"/>
<rect x="205.48" y="702.55" width="60.55" height="39.19" fill="rgb(148,255,0)"/>
<rect x="266.03" y="702.55" width="56.98" height="39.19" fill="rgb(112,255,0)"/>
<rect x="323.01" y="702.55" width="56.98" height="39.19" fill="rgb(178,255,0)"/>
<rect x="380.00" y="702.55" width="56.98" height="39.19" fill="rgb(138,255,0)"/>
<rect x="436.98" y="702.55" width="56.98" height="39.19" fill="rgb(0,255,10)"/>
<rect x="493.97" y="702.55" width="56.98" height="39.19" fill="rgb(10,255,0)"/>
<rect x="550.95" y="702.55" width="60.55" height="39.19" fill="rgb(0,255,71)"/>
<rect x="611.50" y="702.55" width="56.98" height="39.19" fill="rgb(122,255,0)"/>
<rect x="668.48" y="702.55" width="56.98" height="39.19" fill="rgb(189,255,0)"/>
<rect x="725.47" y="702.55" width="56.98" height="39.19" fill="rgb(0,255,31)"/>
<rect x="782.45" y="702.55" width="56.98" height="39.19" fill="rgb(0,255,10)"/>
<rect x="839.43" y="702.55" width="56.98" height="39.19" fill="rgb(0,255,0)"/>
<rect x="896.42" y="702.55" width="56.98" height="39.19" fill="rgb(138,255,0)"/>
<rect x="953.40" y="702.55" width="60.55" height="39.19" fill="rgb(0,255,92)"/>
<rect x="1013.95" y="702.55" width="56.98" height="39.19" fill="#ffffff"/>
<rect x="1070.93" y="702.55" width="56.98" height="39.19" fill="rgb(0,255,173)"/>
<rect x="1127.92" y="702.55" width="56.98" height="39.19" fill="rgb(66,255,0)"/>
<rect x="1184.90" y="702.55" width="56.98" height="39.19" fill="rgb(0,255,168)"/>
<rect x="1241.89" y="702.55" width="56.98" height="39.19" fill="rgb(0,255,219)"/>
<rect x="1298.87" y="702.55" width="60.55" height="39.19" fill="rgb(0,255,31)"/>
<rect x="1359.42" y="702.55" width="56.98" height="39.19" fill="rgb(255,173,0)"/>
<rect x="148.50" y="741.74" width="56.98" height="35.63" fill="rgb(0,255,199)"/>
<rect x="205.48" y="741.74" width="60.55" height="35.63" fill="rgb(0,255,209)"/>
<rect x="266.03" y="741.74" width="56.98" height="35.63" fill="rgb(0,255,189)"/>
<rect x="323.01" y="741.74" width="56.98" height="35.63" fill="rgb(0,255,178)"/>
<rect x="380.00" y="741.74" width="56.98" height="35.63" fill="rgb(0,255,209)"/>
<rect x="436.98" y="741.74" width="56.98" height="35.63" fill="rgb(0,255,122)"/>
<rect x="493.97" y="741.74" width="56.98" height="35.63" fill="rgb(0,255,102)"/>
<rect x="550.95" y="741.74" width="60.55" height="35.63" fill="rgb(0,255,128)"/>
<rect x="611.50" y="741.74" width="56.98" height="35.63" fill="rgb(0,255,178)"/>
<rect x="668.48" y="741.74" width="56.98" height="35.63" fill="rgb(0,255,138)"/>
<rect x="725.47" y="741.74" width="56.98" height="35.63" fill="rgb(20,255,0)"/>
<rect x="782.45" y="741.74" width="56.98" height="35.63" fill="rgb(0,255,61)"/>
<rect x="839.43" y="741.74" width="56.98" height="35.63" fill="rgb(76,255,0)"/>
<rect x="896.42" y="741.74" width="56.98" height="35.63" fill="rgb(0,255,189)"/>
<rect x="953.40" y="741.74" width="60.55" height="35.63" fill="rgb(82,255,0)"/>
<rect x="1013.95" y="741.74" width="56.98" height="35.63" fill="rgb(0,255,173)"/>
<rect x="1070.93" y="741.74" width="56.98" height="35.63" fill="#ffffff"/>
<rect x="1127.92" y="741.74" width="56.98" height="35.63" fill="rgb(71,255,0)"/>
<rect x="1184.90" y="741.74" width="56.98" height="35.63" fill="rgb(189,255,0)"/>
<rect x="1241.89" y="741.74" width="56.98" height="35.63" fill="rgb(224,255,0)"/>
<rect x="1298.87" y="741.74" width="60.55" height="35.63" fill="rgb(0,255,92)"/>
<rect x="1359.42" y="741.74" width="56.98" height="35.63" fill="rgb(0,255,189)"/>
<rect x="148.50" y="777.37" width="56.98" height="35.63" fill="rgb(20,255,0)"/>
<rect x="205.48" y="777.37" width="60.55" height="35.63" fill="rgb(41,255,0)"/>
<rect x="266.03" y="777.37" width="56.98" height="35.63" fill="rgb(0,255,10)"/>
<rect x="323.01" y="777.37" width="56.98" height="35.63" fill="rgb(20,255,0)"/>
<rect x="380.00" y="777.37" width="56.98" height="35.63" fill="rgb(51,255,0)"/>
<rect x="436.98" y="777.37" width="56.98" height="35.63" fill="rgb(0,255,61)"/>
<rect x="493.97" y="777.37" width="56.98" height="35.63" fill="rgb(0,255,92)"/>
<rect x="550.95" y="777.37" width="60.55" height="35.63" fill="rgb(0,255,20)"/>
<rect x="611.50" y="777.37" width="56.98" height="35.63" fill="rgb(102,255,0)"/>
<rect x="668.48" y="777.37" width="56.98" height="35.63" fill="rgb(168,255,0)"/>
<rect x="725.47" y="777.37" width="56.98" height="35.63" fill="rgb(168,255,0)"/>
<rect x="782.45" y="777.37" width="56.98" height="35.63" fill="rgb(0,255,112)"/>
<rect x="839.43" y="777.37" width="56.98" height="35.63" fill="rgb(0,255,122)"/>
<rect x="896.42" y="777.37" width="56.98" height="35.63" fill="rgb(255,56,0)"/>
<rect x="953.40" y="777.37" width="60.55" height="35.63" fill="rgb(158,255,0)"/>
<rect x="1013.95" y="777.37" width="56.98" height="35.63" fill="rgb(66,255,0)"/>
<rect x="1070.93" y="777.37" width="56.98" height="35.63" fill="rgb(71,255,0)"/>
<rect x="1127.92" y="777.37" width="56.98" height="35.63" fill="#ffffff"/>
<rect x="1184.90" y="777.37" width="56.98" height="35.63" fill="rgb(31,255,0)"/>
<rect x="1241.89" y="777.37" width="56.98" height="35.63" fill="rgb(133,255,0)"/>
<rect x="1298.87" y="777.37" width="60.55" height="35.63" fill="rgb(0,255,0)"/>
<rect x="1359.42" y="777.37" width="56.98" height="35.63" fill="rgb(0,255,31)"/>
<rect x="148.50" y="813.00" width="56.98" height="35.63" fill="rgb(0,255,61)"/>
<rect x="205.48" y="813.00" width="60.55" height="35.63" fill="rgb(0,255,71)"/>
<rect x="266.03" y="813.00" width="56.98" height="35.63" fill="rgb(0,255,71)"/>
<rect x="323.01" y="813.00" width="56.98" height="35.63" fill="rgb(0,255,71)"/>
<rect x="380.00" y="813.00" width="56.98" height="35.63" fill="rgb(0,255,92)"/>
<rect x="436.98" y="813.00" width="56.98" height="35.63" fill="rgb(71,255,0)"/>
<rect x="493.97" y="813.00" width="56.98" height="35.63" fill="rgb(82,255,0)"/>
<rect x="550.95" y="813.00" width="60.55" height="35.63" fill="rgb(0,255,10)"/>
<rect x="611.50" y="813.00" width="56.98" height="35.63" fill="rgb(0,255,20)"/>
<rect x="668.48" y="813.00" width="56.98" height="35.63" fill="rgb(0,255,10)"/>
<rect x="725.47" y="813.00" width="56.98" height="35.63" fill="rgb(0,255,10)"/>
<rect x="782.45" y="813.00" width="56.98" height="35.63" fill="rgb(0,255,20)"/>
<rect x="839.43" y="813.00" width="56.98" height="35.63" fill="rgb(61,255,0)"/>
<rect x="896.42" y="813.00" width="56.98" height="35.63" fill="rgb(0,255,31)"/>
<rect x="953.40" y="813.00" width="60.55" height="35.63" fill="rgb(0,255,92)"/>
<rect x="1013.95" y="813.00" width="56.98" height="35.63" fill="rgb(0,255,168)"/>
<rect x="1070.93" y="813.00" width="56.98" height="35.63" fill="rgb(189,255,0)"/>
<rect x="1127.92" y="813.00" width="56.98" height="35.63" fill="rgb(31,255,0)"/>
<rect x="1184.90" y="813.00" width="56.98" height="35.63" fill="#ffffff"/>
<rect x="1241.89" y="813.00" width="56.98" height="35.63" fill="rgb(255,92,0)"/>
<rect x="1298.87" y="813.00" width="60.55" height="35.63" fill="rgb(71,255,0)"/>
<rect x="1359.42" y="813.00" width="56.98" height="35.63" fill="rgb(0,255,61)"/>
<rect x="148.50" y="848.62" width="56.98" height="35.63" fill="rgb(61,255,0)"/>
<rect x="205.48" y="848.62" width="60.55" height="35.63" fill="rgb(10,255,0)"/>
<rect x="266.03" y="848.62" width="56.98" height="35.63" fill="rgb(51,255,0)"/>
<rect x="323.01" y="848.62" width="56.98" height="35.63" fill="rgb(0,255,20)"/>
<rect x="380.00" y="848.62" width="56.98" height="35.63" fill="rgb(0,255,10)"/>
<rect x="436.98" y="848.62" width="56.98" height="35.63" fill="rgb(158,255,0)"/>
<rect x="493.97" y="848.62" width="56.98" height="35.63" fill="rgb(122,255,0)"/>
<rect x="550.95" y="848.62" width="60.55" height="35.63" fill="rgb(178,255,0)"/>
<rect x="611.50" y="848.62" width="56.98" height="35.63" fill="rgb(31,255,0)"/>
<rect x="668.48" y="848.62" width="56.98" height="35.63" fill="rgb(0,255,122)"/>
<rect x="725.47" y="848.62" width="56.98" height="35.63" fill="rgb(31,255,0)"/>
<rect x="782.45" y="848.62" width="56.98" height="35.63" fill="rgb(41,255,0)"/>
<rect x="839.43" y="848.62" width="56.98" height="35.63" fill="rgb(92,255,0)"/>
<rect x="896.42" y="848.62" width="56.98" height="35.63" fill="rgb(0,255,10)"/>
<rect x="953.40" y="848.62" width="60.55" height="35.63" fill="rgb(199,255,0)"/>
<rect x="1013.95" y="848.62" width="56.98" height="35.63" fill="rgb(0,255,219)"/>
<rect x="1070.93" y="848.62" width="56.98" height="35.63" fill="rgb(224,255,0)"/>
<rect x="1127.92" y="848.62" width="56.98" height="35.63" fill="rgb(133,255,0)"/>
<rect x="1184.90" y="848.62" width="56.98" height="35.63" fill="rgb(255,92,0)"/>
<rect x="1241.89" y="848.62" width="56.98" height="35.63" fill="#ffffff"/>
<rect x="1298.87" y="848.62" width="60.55" height="35.63" fill="rgb(41,255,0)"/>
<rect x="1359.42" y="848.62" width="56.98" height="35.63" fill="rgb(0,255,138)"/>
<rect x="148.50" y="884.25" width="56.98" height="35.63" fill="rgb(0,255,10)"/>
<rect x="205.48" y="884.25" width="60.55" height="35.63" fill="rgb(0,255,20)"/>
<rect x="266.03" y="884.25" width="56.98" height="35.63" fill="rgb(0,255,20)"/>
<rect x="323.01" y="884.25" width="56.98" height="35.63" fill="rgb(0,255,20)"/>
<rect x="380.00" y="884.25" width="56.98" height="35.63" fill="rgb(0,255,20)"/>
<rect x="436.98" y="884.25" width="56.98" height="35.63" fill="rgb(102,255,0)"/>
<rect x="493.97" y="884.25" width="56.98" height="35.63" fill="rgb(128,255,0)"/>
<rect x="550.95" y="884.25" width="60.55" height="35.63" fill="rgb(0,255,10)"/>
<rect x="611.50" y="884.25" width="56.98" height="35.63" fill="rgb(61,255,0)"/>
<rect x="668.48" y="884.25" width="56.98" height="35.63" fill="rgb(82,255,0)"/>
<rect x="725.47" y="884.25" width="56.98" height="35.63" fill="rgb(0,255,20)"/>
<rect x="782.45" y="884.25" width="56.98" height="35.63" fill="rgb(0,255,41)"/>
<rect x="839.43" y="884.25" width="56.98" height="35.63" fill="rgb(128,255,0)"/>
<rect x="896.42" y="884.25" width="56.98" height="35.63" fill="rgb(0,255,0)"/>
<rect x="953.40" y="884.25" width="60.55" height="35.63" fill="rgb(0,255,41)"/>
<rect x="1013.95" y="884.25" width="56.98" height="35.63" fill="rgb(0,255,31)"/>
<rect x="1070.93" y="884.25" width="56.98" height="35.63" fill="rgb(0,255,92)"/>
<rect x="1127.92" y="884.25" width="56.98" height="35.63" fill="rgb(0,255,0)"/>
<rect x="1184.90" y="884.25" width="56.98" height="35.63" fill="rgb(71,255,0)"/>
<rect x="1241.89" y="884.25" width="56.98" height="35.63" fill="rgb(41,255,0)"/>
<rect x="1298.87" y="884.25" width="60.55" height="35.63" fill="#ffffff"/>
<rect x="1359.42" y="884.25" width="56.98" height="35.63" fill="rgb(255,143,0)"/>
<rect x="148.50" y="919.87" width="56.98" height="35.63" fill="rgb(61,255,0)"/>
<rect x="205.48" y="919.87" width="60.55" height="35.63" fill="rgb(122,255,0)"/>
<rect x="266.03" y="919.87" width="56.98" height="35.63" fill="rgb(61,255,0)"/>
<rect x="323.01" y="919.87" width="56.98" height="35.63" fill="rgb(128,255,0)"/>
<rect x="380.00" y="919.87" width="56.98" height="35.63" fill="rgb(76,255,0)"/>
<rect x="436.98" y="919.87" width="56.98" height="35.63" fill="rgb(71,255,0)"/>
<rect x="493.97" y="919.87" width="56.98" height="35.63" fill="rgb(112,255,0)"/>
<rect x="550.95" y="919.87" width="60.55" height="35.63" fill="rgb(0,255,71)"/>
<rect x="611.50" y="919.87" width="56.98" height="35.63" fill="rgb(122,255,0)"/>
<rect x="668.48" y="919.87" width="56.98" height="35.63" fill="rgb(178,255,0)"/>
<rect x="725.47" y="919.87" width="56.98" height="35.63" fill="rgb(0,255,41)"/>
<rect x="782.45" y="919.87" width="56.98" height="35.63" fill="rgb(0,255,41)"/>
<rect x="839.43" y="919.87" width="56.98" height="35.63" fill="rgb(92,255,0)"/>
<rect x="896.42" y="919.87" width="56.98" height="35.63" fill="rgb(76,255,0)"/>
<rect x="953.40" y="919.87" width="60.55" height="35.63" fill="rgb(0,255,102)"/>
<rect x="1013.95" y="919.87" width="56.98" height="35.63" fill="rgb(255,173,0)"/>
<rect x="1070.93" y="919.87" width="56.98" height="35.63" fill="rgb(0,255,189)"/>
<rect x="1127.92" y="919.87" width="56.98" height="35.63" fill="rgb(0,255,31)"/>
<rect x="1184.90" y="919.87" width="56.98" height="35.63" fill="rgb(0,255,61)"/>
<rect x="1241.89" y="919.87" width="56.98" height="35.63" fill="rgb(0,255,138)"/>
<rect x="1298.87" y="919.87" width="60.55" height="35.63" fill="rgb(255,143,0)"/>
<rect x="1359.42" y="919.87" width="56.98" height="35.63" fill="#ffffff"/>
<rect x="146.72" y="162.82" width="3.56" height="794.46" fill="#000"/>
<rect x="146.72" y="162.82" width="1271.46" height="3.56" fill="#000"/>
<rect x="203.70" y="162.82" width="3.56" height="794.46" fill="#000"/>
<rect x="146.72" y="198.45" width="1271.46" height="3.56" fill="#000"/>
<rect x="264.25" y="162.82" width="3.56" height="794.46" fill="#000"/>
<rect x="146.72" y="234.07" width="1271.46" height="3.56" fill="#000"/>
<rect x="321.23" y="162.82" width="3.56" height="794.46" fill="#000"/>
<rect x="146.72" y="269.70" width="1271.46" height="3.56" fill="#000"/>
<rect x="378.22" y="162.82" width="3.56" height="794.46" fill="#000"/>
<rect x="146.72" y="305.32" width="1271.46" height="3.56" fill="#000"/>
<rect x="435.20" y="162.82" width="3.56" height="794.46" fill="#000"/>
<rect x="146.72" y="340.95" width="1271.46" height="3.56" fill="#000"/>
<rect x="492.19" y="162.82" width="3.56" height="794.46" fill="#000"/>
<rect x="146.72" y="376.58" width="1271.46" height="3.56" fill="#000"/>
<rect x="549.17" y="162.82" width="3.56" height="794.46" fill="#000"/>
<rect x="146.72" y="415.77" width="1271.46" height="3.56" fill="#000"/>
<rect x="609.72" y="162.82" width="3.56" height="794.46" fill="#000"/>
<rect x="146.72" y="451.39" width="1271.46" height="3.56" fill="#000"/>
<rect x="666.70" y="162.82" width="3.56" height="794.46" fill="#000"/>
<rect x="146.72" y="487.02" width="1271.46" height="3.56" fill="#000"/>
<rect x="723.69" y="162.82" width="3.56" height="794.46" fill="#000"/>
<rect x="146.72" y="522.64" width="1271.46" height="3.56" fill="#000"/>
<rect x="780.67" y="162.82" width="3.56" height="794.46" fill="#000"/>
<rect x="146.72" y="558.27" width="1271.46" height="3.56" fill="#000"/>
<rect x="837.65" y="162.82" width="3.56" height="794.46" fill="#000"/>
<rect x="146.72" y="593.90" width="1271.46" height="3.56" fill="#000"/>
<rect x="894.64" y="162.82" width="3.56" height="794.46" fill="#000"/>
<rect x="146.72" y="629.52" width="1271.46" height="3.56" fill="#000"/>
<rect x="951.62" y="162.82" width="3.56" height="794.46" fill="#000"/>
<rect x="146.72" y="665.15" width="1271.46" height="3.56" fill="#000"/>
<rect x="1012.17" y="162.82" width="3.56" height="794.46" fill="#000"/>
<rect x="146.72" y="700.77" width="1271.46" height="3.56" fill="#000"/>
<rect x="1069.15" y="162.82" width="3.56" height="794.46" fill="#000"/>
<rect x="146.72" y="739.96" width="1271.46" height="3.56" fill="#000"/>
<rect x="1126.14" y="162.82" width="3.56" height="794.46" fill="#000"/>
<rect x="146.72" y="775.59" width="1271.46" height="3.56" fill="#000"/>
<rect x="1183.12" y="162.82" width="3.56" height="794.46" fill="#000"/>
<rect x="146.72" y="811.22" width="1271.46" height="3.56" fill="#000"/>
<rect x="1240.11" y="162.82" width="3.56" height="794.46" fill="#000"/>
<rect x="146.72" y="846.84" width="1271.46" height="3.56" fill="#000"/>
<rect x="1297.09" y="162.82" width="3.56" height="794.46" fill="#000"/>
<rect x="146.72" y="882.47" width="1271.46" height="3.56" fill="#000"/>
<rect x="1357.64" y="162.82" width="3.56" height="794.46" fill="#000"/>
<rect x="146.72" y="918.09" width="1271.46" height="3.56" fill="#000"/>
<rect x="1414.62" y="162.82" width="3.56" height="794.46" fill="#000"/>
<rect x="146.72" y="953.72" width="1271.46" height="3.56" fill="#000"/>
<rect x="1418" y="164.60" width="1" height="35.63" fill="rgb(148,213,130)"/>
<rect x="1418" y="200.23" width="1" height="35.63" fill="rgb(166,213,130)"/>
<rect x="1418" y="235.85" width="1" height="35.63" fill="rgb(148,213,130)"/>
<rect x="1418" y="271.48" width="1" height="35.63" fill="rgb(168,213,130)"/>
<rect x="1418" y="307.10" width="1" height="35.63" fill="rgb(152,213,130)"/>
<rect x="1418" y="342.73" width="1" height="35.63" fill="rgb(151,213,130)"/>
<rect x="1418" y="378.36" width="1" height="39.19" fill="rgb(163,213,130)"/>
<rect x="1418" y="417.55" width="1" height="35.63" fill="rgb(130,213,151)"/>
<rect x="1418" y="453.17" width="1" height="35.63" fill="rgb(166,213,130)"/>
<rect x="1418" y="488.80" width="1" height="35.63" fill="rgb(183,213,130)"/>
<rect x="1418" y="524.42" width="1" height="35.63" fill="rgb(130,213,142)"/>
<rect x="1418" y="560.05" width="1" height="35.63" fill="rgb(130,213,142)"/>
<rect x="1418" y="595.68" width="1" height="35.63" fill="rgb(157,213,130)"/>
<rect x="1418" y="631.30" width="1" height="35.63" fill="rgb(152,213,130)"/>
<rect x="1418" y="666.93" width="1" height="35.63" fill="rgb(130,213,160)"/>
<rect x="1418" y="702.55" width="1" height="39.19" fill="rgb(206,188,130)"/>
<rect x="1418" y="741.74" width="1" height="35.63" fill="rgb(130,213,186)"/>
<rect x="1418" y="777.37" width="1" height="35.63" fill="rgb(130,213,139)"/>
<rect x="1418" y="813.00" width="1" height="35.63" fill="rgb(130,213,148)"/>
<rect x="1418" y="848.62" width="1" height="35.63" fill="rgb(130,213,171)"/>
<rect x="1418" y="884.25" width="1" height="35.63" fill="rgb(206,179,130)"/>
<rect x="1418" y="919.87" width="1" height="35.63" fill="rgb(206,213,206)"/>
<text transform="translate(233.81,194.56) scale(1.016,1.06)" text-anchor="middle">0.95</text>
<text transform="translate(293.47,194.56) scale(1.016,1.06)" text-anchor="middle">0.97</text>
<text transform="translate(350.61,194.56) scale(1.016,1.06)" text-anchor="middle">0.93</text>
<text transform="translate(407.19,194.56) scale(1.016,1.06)" text-anchor="middle">0.93</text>
<text transform="translate(464.68,194.56) scale(1.016,1.06)" text-anchor="middle">0.76</text>
<text transform="translate(521.66,194.56) scale(1.016,1.06)" text-anchor="middle">0.70</text>
<text transform="translate(578.62,194.56) scale(1.016,1.06)" text-anchor="middle">0.76</text>
<text transform="translate(639.59,194.56) scale(1.016,1.06)" text-anchor="middle">0.81</text>
<text transform="translate(697.77,193.86) scale(1.01,1.04)" text-anchor="middle">X</text>
<text transform="translate(754.76,193.86) scale(1.01,1.04)" text-anchor="middle">X</text>
<text transform="translate(811.79,193.86) scale(1.01,1.04)" text-anchor="middle">X</text>
<text transform="translate(868.78,193.86) scale(1.01,1.04)" text-anchor="middle">X</text>
<text transform="translate(925.71,193.86) scale(1.01,1.04)" text-anchor="middle">X</text>
<text transform="translate(985.98,193.86) scale(1.01,1.04)" text-anchor="middle">X</text>
<text transform="translate(1043.39,193.86) scale(1.01,1.04)" text-anchor="middle">X</text>
<text transform="translate(1100.38,193.86) scale(1.01,1.04)" text-anchor="middle">X</text>
<text transform="translate(1157.11,193.86) scale(1.01,1.04)" text-anchor="middle">X</text>
<text transform="translate(1214.24,193.86) scale(1.01,1.04)" text-anchor="middle">X</text>
<text transform="translate(1271.03,193.86) scale(1.01,1.04)" text-anchor="middle">X</text>
<text transform="translate(1331.89,193.86) scale(1.01,1.04)" text-anchor="middle">X</text>
<text transform="translate(1388.86,193.86) scale(1.01,1.04)" text-anchor="middle">X</text>
<text transform="translate(176.74,230.59) scale(1.016,1.06)" text-anchor="middle">0.95</text>
<text transform="translate(293.47,230.59) scale(1.016,1.06)" text-anchor="middle">0.93</text>
<text transform="translate(350.61,230.59) scale(1.016,1.06)" text-anchor="middle">0.96</text>
<text transform="translate(407.19,230.59) scale(1.016,1.06)" text-anchor="middle">0.96</text>
<text transform="translate(464.68,230.59) scale(1.016,1.06)" text-anchor="middle">0.65</text>
<text transform="translate(521.66,230.59) scale(1.016,1.06)" text-anchor="middle">0.61</text>
<text transform="translate(578.62,230.59) scale(1.016,1.06)" text-anchor="middle">0.61</text>
<text transform="translate(639.59,230.59) scale(1.016,1.06)" text-anchor="middle">0.79</text>
<text transform="translate(697.77,229.89) scale(1.01,1.04)" text-anchor="middle">X</text>
<text transform="translate(754.76,229.89) scale(1.01,1.04)" text-anchor="middle">X</text>
<text transform="translate(811.79,229.89) scale(1.01,1.04)" text-anchor="middle">X</text>
<text transform="translate(868.78,229.89) scale(1.01,1.04)" text-anchor="middle">X</text>
<text transform="translate(925.71,229.89) scale(1.01,1.04)" text-anchor="middle">X</text>
<text transform="translate(985.98,229.89) scale(1.01,1.04)" text-anchor="middle">X</text>
<text transform="translate(1043.39,229.89) scale(1.01,1.04)" text-anchor="middle">X</text>
<text transform="translate(1100.38,229.89) scale(1.01,1.04)" text-anchor="middle">X</text>
<text transform="translate(1157.11,229.89) scale(1.01,1.04)" text-anchor="middle">X</text>
<text transform="translate(1214.24,229.89) scale(1.01,1.04)" text-anchor="middle">X</text>
<text transform="translate(1271.03,229.89) scale(1.01,1.04)" text-anchor="middle">X</text>
<text transform="translate(1331.89,229.89) scale(1.01,1.04)" text-anchor="middle">X</text>
<text transform="translate(1388.86,229.89) scale(1.01,1.04)" text-anchor="middle">X</text>
<text transform="translate(176.74,265.67) scale(1.016,1.06)" text-anchor="middle">0.97</text>
<text transform="translate(233.81,265.67) scale(1.016,1.06)" text-anchor="middle">0.93</text>
<text transform="translate(350.61,265.67) scale(1.016,1.06)" text-anchor="middle">0.96</text>
<text transform="translate(407.19,265.67) scale(1.016,1.06)" text-anchor="middle">0.96</text>
<text transform="translate(464.68,265.67) scale(1.016,1.06)" text-anchor="middle">0.66</text>
<text transform="translate(521.66,265.67) scale(1.016,1.06)" text-anchor="middle">0.60</text>
<text transform="translate(578.62,265.67) scale(1.016,1.06)" text-anchor="middle">0.67</text>
<text transform="translate(639.59,265.67) scale(1.016,1.06)" text-anchor="middle">0.76</text>
<text transform="translate(697.77,264.97) scale(1.01,1.04)" text-anchor="middle">X</text>
<text transform="translate(754.76,264.97) scale(1.01,1.04)" text-anchor="middle">X</text>
<text transform="translate(811.79,264.97) scale(1.01,1.04)" text-anchor="middle">X</text>
<text transform="translate(868.78,264.97) scale(1.01,1.04)" text-anchor="middle">X</text>
<text transform="translate(925.71,264.97) scale(1.01,1.04)" text-anchor="middle">X</text>
<text transform="translate(985.98,264.97) scale(1.01,1.04)" text-anchor="middle">X</text>
<text transform="translate(1043.39,264.97) scale(1.01,1.04)" text-anchor="middle">X</text>
<text transform="translate(1100.38,264.97) scale(1.01,1.04)" text-anchor="middle">X</text>
<text transform="translate(1157.11,264.97) scale(1.01,1.04)" text-anchor="middle">X</text>
<text transform="translate(1214.24,264.97) scale(1.01,1.04)" text-anchor="middle">X</text>
<text transform="translate(1271.03,264.97) scale(1.01,1.04)" text-anchor="middle">X</text>
<text transform="translate(1331.89,264.97) scale(1.01,1.04)" text-anchor="middle">X</text>
<text transform="translate(1388.86,264.97) scale(1.01,1.04)" text-anchor="middle">X</text>
<text transform="translate(176.74,301.69) scale(1.016,1.06)" text-anchor="middle">0.93</text>
<text transform="translate(233.81,301.69) scale(1.016,1.06)" text-anchor="middle">0.96</text>
<text transform="translate(293.47,301.69) scale(1.016,1.06)" text-anchor="middle">0.96</text>
<text transform="translate(407.19,301.69) scale(1.016,1.06)" text-anchor="middle">0.96</text>
<text transform="translate(464.68,301.69) scale(1.016,1.06)" text-anchor="middle">0.59</text>
<text transform="translate(521.66,301.69) scale(1.016,1.06)" text-anchor="middle">0.58</text>
<text transform="translate(578.62,301.69) scale(1.016,1.06)" text-anchor="middle">0.51</text>
<text transform="translate(639.59,301.69) scale(1.016,1.06)" text-anchor="middle">0.74</text>
<text transform="translate(697.77,300.99) scale(1.01,1.04)" text-anchor="middle">X</text>
<text transform="translate(754.76,300.99) scale(1.01,1.04)" text-anchor="middle">X</text>
<text transform="translate(811.79,300.99) scale(1.01,1.04)" text-anchor="middle">X</text>
<text transform="translate(868.78,300.99) scale(1.01,1.04)" text-anchor="middle">X</text>
<text transform="translate(925.71,300.99) scale(1.01,1.04)" text-anchor="middle">X</text>
<text transform="translate(985.98,300.99) scale(1.01,1.04)" text-anchor="middle">X</text>
<text transform="translate(1043.39,300.99) scale(1.01,1.04)" text-anchor="middle">X</text>
<text transform="translate(1100.38,300.99) scale(1.01,1.04)" text-anchor="middle">X</text>
<text transform="translate(1157.11,300.99) scale(1.01,1.04)" text-anchor="middle">X</text>
<text transform="translate(1214.24,300.99) scale(1.01,1.04)" text-anchor="middle">X</text>
<text transform="translate(1271.03,300.99) scale(1.01,1.04)" text-anchor="middle">X</text>
<text transform="translate(1331.89,300.99) scale(1.01,1.04)" text-anchor="middle">X</text>
<text transform="translate(1388.86,300.99) scale(1.01,1.04)" text-anchor="middle">X</text>
<text transform="translate(176.74,337.72) scale(1.016,1.06)" text-anchor="middle">0.93</text>
<text transform="translate(233.81,337.72) scale(1.016,1.06)" text-anchor="middle">0.96</text>
<text transform="translate(293.47,337.72) scale(1.016,1.06)" text-anchor="middle">0.96</text>
<text transform="translate(350.61,337.72) scale(1.016,1.06)" text-anchor="middle">0.96</text>
<text transform="translate(464.68,337.72) scale(1.016,1.06)" text-anchor="middle">0.52</text>
<text transform="translate(521.66,337.72) scale(1.016,1.06)" text-anchor="middle">0.47</text>
<text transform="translate(578.62,337.72) scale(1.016,1.06)" text-anchor="middle">0.54</text>
<text transform="translate(639.59,337.72) scale(1.016,1.06)" text-anchor="middle">0.75</text>
<text transform="translate(697.77,337.02) scale(1.01,1.04)" text-anchor="middle">X</text>
<text transform="translate(754.76,337.02) scale(1.01,1.04)" text-anchor="middle">X</text>
<text transform="translate(811.79,337.02) scale(1.01,1.04)" text-anchor="middle">X</text>
<text transform="translate(868.78,337.02) scale(1.01,1.04)" text-anchor="middle">X</text>
<text transform="translate(925.71,337.02) scale(1.01,1.04)" text-anchor="middle">X</text>
<text transform="translate(985.98,337.02) scale(1.01,1.04)" text-anchor="middle">X</text>
<text transform="translate(1043.39,337.02) scale(1.01,1.04)" text-anchor="middle">X</text>
<text transform="translate(1100.38,337.02) scale(1.01,1.04)" text-anchor="middle">X</text>
<text transform="translate(1157.11,337.02) scale(1.01,1.04)" text-anchor="middle">X</text>
<text transform="translate(1214.24,337.02) scale(1.01,1.04)" text-anchor="middle">X</text>
<text transform="translate(1271.03,337.02) scale(1.01,1.04)" text-anchor="middle">X</text>
<text transform="translate(1331.89,337.02) scale(1.01,1.04)" text-anchor="middle">X</text>
<text transform="translate(1388.86,337.02) scale(1.01,1.04)" text-anchor="middle">X</text>
<text transform="translate(176.74,372.69) scale(1.016,1.06)" text-anchor="middle">0.76</text>
<text transform="translate(233.81,372.69) scale(1.016,1.06)" text-anchor="middle">0.65</text>
<text transform="translate(293.47,372.69) scale(1.016,1.06)" text-anchor="middle">0.66</text>
<text transform="translate(350.61,372.69) scale(1.016,1.06)" text-anchor="middle">0.59</text>
<text transform="translate(407.19,372.69) scale(1.016,1.06)" text-anchor="middle">0.52</text>
<text transform="translate(521.66,372.69) scale(1.016,1.06)" text-anchor="middle">0.97</text>
<text transform="translate(578.62,372.69) scale(1.016,1.06)" text-anchor="middle">0.84</text>
<text transform="translate(639.59,372.69) scale(1.016,1.06)" text-anchor="middle">0.72</text>
<text transform="translate(697.77,371.99) scale(1.01,1.04)" text-anchor="middle">X</text>
<text transform="translate(754.76,371.99) scale(1.01,1.04)" text-anchor="middle">X</text>
<text transform="translate(811.79,371.99) scale(1.01,1.04)" text-anchor="middle">X</text>
<text transform="translate(868.78,371.99) scale(1.01,1.04)" text-anchor="middle">X</text>
<text transform="translate(925.71,371.99) scale(1.01,1.04)" text-anchor="middle">X</text>
<text transform="translate(985.98,371.99) scale(1.01,1.04)" text-anchor="middle">X</text>
<text transform="translate(1043.39,371.99) scale(1.01,1.04)" text-anchor="middle">X</text>
<text transform="translate(1100.38,371.99) scale(1.01,1.04)" text-anchor="middle">X</text>
<text transform="translate(1157.11,371.99) scale(1.01,1.04)" text-anchor="middle">X</text>
<text transform="translate(1214.24,371.99) scale(1.01,1.04)" text-anchor="middle">X</text>
<text transform="translate(1271.03,371.99) scale(1.01,1.04)" text-anchor="middle">X</text>
<text transform="translate(1331.89,371.99) scale(1.01,1.04)" text-anchor="middle">X</text>
<text transform="translate(1388.86,371.99) scale(1.01,1.04)" text-anchor="middle">X</text>
<text transform="translate(176.74,411.70) scale(1.016,1.06)" text-anchor="middle">0.70</text>
<text transform="translate(233.81,411.70) scale(1.016,1.06)" text-anchor="middle">0.61</text>
<text transform="translate(293.47,411.70) scale(1.016,1.06)" text-anchor="middle">0.60</text>
<text transform="translate(350.61,411.70) scale(1.016,1.06)" text-anchor="middle">0.58</text>
<text transform="translate(407.19,411.70) scale(1.016,1.06)" text-anchor="middle">0.47</text>
<text transform="translate(464.68,411.70) scale(1.016,1.06)" text-anchor="middle">0.97</text>
<text transform="translate(578.62,411.70) scale(1.016,1.06)" text-anchor="middle">0.70</text>
<text transform="translate(639.59,411.70) scale(1.016,1.06)" text-anchor="middle">0.71</text>
<text transform="translate(697.77,411.00) scale(1.01,1.04)" text-anchor="middle">X</text>
<text transform="translate(754.76,411.00) scale(1.01,1.04)" text-anchor="middle">X</text>
<text transform="translate(811.79,411.00) scale(1.01,1.04)" text-anchor="middle">X</text>
<text transform="translate(868.78,411.00) scale(1.01,1.04)" text-anchor="middle">X</text>
<text transform="translate(925.71,411.00) scale(1.01,1.04)" text-anchor="middle">X</text>
<text transform="translate(985.98,411.00) scale(1.01,1.04)" text-anchor="middle">X</text>
<text transform="translate(1043.39,411.00) scale(1.01,1.04)" text-anchor="middle">X</text>
<text transform="translate(1100.38,411.00) scale(1.01,1.04)" text-anchor="middle">X</text>
<text transform="translate(1157.11,411.00) scale(1.01,1.04)" text-anchor="middle">X</text>
<text transform="translate(1214.24,411.00) scale(1.01,1.04)" text-anchor="middle">X</text>
<text transform="translate(1271.03,411.00) scale(1.01,1.04)" text-anchor="middle">X</text>
<text transform="translate(1331.89,411.00) scale(1.01,1.04)" text-anchor="middle">X</text>
<text transform="translate(1388.86,411.00) scale(1.01,1.04)" text-anchor="middle">X</text>
<text transform="translate(176.74,447.81) scale(1.016,1.06)" text-anchor="middle">0.76</text>
<text transform="translate(233.81,447.81) scale(1.016,1.06)" text-anchor="middle">0.61</text>
<text transform="translate(293.47,447.81) scale(1.016,1.06)" text-anchor="middle">0.67</text>
<text transform="translate(350.61,447.81) scale(1.016,1.06)" text-anchor="middle">0.51</text>
<text transform="translate(407.19,447.81) scale(1.016,1.06)" text-anchor="middle">0.54</text>
<text transform="translate(464.68,447.81) scale(1.016,1.06)" text-anchor="middle">0.84</text>
<text transform="translate(521.66,447.81) scale(1.016,1.06)" text-anchor="middle">0.70</text>
<text transform="translate(639.59,447.81) scale(1.016,1.06)" text-anchor="middle">0.59</text>
<text transform="translate(697.77,447.11) scale(1.01,1.04)" text-anchor="middle">X</text>
<text transform="translate(754.76,447.11) scale(1.01,1.04)" text-anchor="middle">X</text>
<text transform="translate(810.19,447.81) scale(1.016,1.06)" text-anchor="middle">0.43</text>
<text transform="translate(868.78,447.11) scale(1.01,1.04)" text-anchor="middle">X</text>
<text transform="translate(925.71,447.11) scale(1.01,1.04)" text-anchor="middle">X</text>
<text transform="translate(984.38,447.81) scale(1.016,1.06)" text-anchor="middle">0.59</text>
<text transform="translate(1043.39,447.11) scale(1.01,1.04)" text-anchor="middle">X</text>
<text transform="translate(1100.38,447.11) scale(1.01,1.04)" text-anchor="middle">X</text>
<text transform="translate(1157.11,447.11) scale(1.01,1.04)" text-anchor="middle">X</text>
<text transform="translate(1214.24,447.11) scale(1.01,1.04)" text-anchor="middle">X</text>
<text transform="translate(1271.03,447.11) scale(1.01,1.04)" text-anchor="middle">X</text>
<text transform="translate(1331.89,447.11) scale(1.01,1.04)" text-anchor="middle">X</text>
<text transform="translate(1388.86,447.11) scale(1.01,1.04)" text-anchor="middle">X</text>
<text transform="translate(176.74,483.53) scale(1.016,1.06)" text-anchor="middle">0.81</text>
<text transform="translate(233.81,483.53) scale(1.016,1.06)" text-anchor="middle">0.79</text>
<text transform="translate(293.47,483.53) scale(1.016,1.06)" text-anchor="middle">0.76</text>
<text transform="translate(350.61,483.53) scale(1.016,1.06)" text-anchor="middle">0.74</text>
<text transform="translate(407.19,483.53) scale(1.016,1.06)" text-anchor="middle">0.75</text>
<text transform="translate(464.68,483.53) scale(1.016,1.06)" text-anchor="middle">0.72</text>
<text transform="translate(521.66,483.53) scale(1.016,1.06)" text-anchor="middle">0.71</text>
<text transform="translate(578.62,483.53) scale(1.016,1.06)" text-anchor="middle">0.59</text>
<text transform="translate(697.77,482.83) scale(1.01,1.04)" text-anchor="middle">X</text>
<text transform="translate(754.76,482.83) scale(1.01,1.04)" text-anchor="middle">X</text>
<text transform="translate(811.79,482.83) scale(1.01,1.04)" text-anchor="middle">X</text>
<text transform="translate(868.78,482.83) scale(1.01,1.04)" text-anchor="middle">X</text>
<text transform="translate(925.71,482.83) scale(1.01,1.04)" text-anchor="middle">X</text>
<text transform="translate(985.98,482.83) scale(1.01,1.04)" text-anchor="middle">X</text>
<text transform="translate(1043.39,482.83) scale(1.01,1.04)" text-anchor="middle">X</text>
<text transform="translate(1100.38,482.83) scale(1.01,1.04)" text-anchor="middle">X</text>
<text transform="translate(1157.11,482.83) scale(1.01,1.04)" text-anchor="middle">X</text>
<text transform="translate(1214.24,482.83) scale(1.01,1.04)" text-anchor="middle">X</text>
<text transform="translate(1271.03,482.83) scale(1.01,1.04)" text-anchor="middle">X</text>
<text transform="translate(1331.89,482.83) scale(1.01,1.04)" text-anchor="middle">X</text>
<text transform="translate(1388.86,482.83) scale(1.01,1.04)" text-anchor="middle">X</text>
<text transform="translate(178.34,518.26) scale(1.01,1.04)" text-anchor="middle">X</text>
<text transform="translate(235.41,518.26) scale(1.01,1.04)" text-anchor="middle">X</text>
<text transform="translate(295.07,518.26) scale(1.01,1.04)" text-anchor="middle">X</text>
<text transform="translate(352.21,518.26) scale(1.01,1.04)" text-anchor="middle">X</text>
<text transform="translate(408.79,518.26) scale(1.01,1.04)" text-anchor="middle">X</text>
<text transform="translate(466.28,518.26) scale(1.01,1.04)" text-anchor="middle">X</text>
<text transform="translate(523.26,518.26) scale(1.01,1.04)" text-anchor="middle">X</text>
<text transform="translate(580.22,518.26) scale(1.01,1.04)" text-anchor="middle">X</text>
<text transform="translate(641.19,518.26) scale(1.01,1.04)" text-anchor="middle">X</text>
<text transform="translate(753.16,518.96) scale(1.016,1.06)" text-anchor="middle">0.54</text>
<text transform="translate(811.79,518.26) scale(1.01,1.04)" text-anchor="middle">X</text>
<text transform="translate(868.78,518.26) scale(1.01,1.04)" text-anchor="middle">X</text>
<text transform="translate(924.11,518.96) scale(1.016,1.06)" text-anchor="middle">0.42</text>
<text transform="translate(985.98,518.26) scale(1.01,1.04)" text-anchor="middle">X</text>
<text transform="translate(1043.39,518.26) scale(1.01,1.04)" text-anchor="middle">X</text>
<text transform="translate(1100.38,518.26) scale(1.01,1.04)" text-anchor="middle">X</text>
<text transform="translate(1157.11,518.26) scale(1.01,1.04)" text-anchor="middle">X</text>
<text transform="translate(1214.24,518.26) scale(1.01,1.04)" text-anchor="middle">X</text>
<text transform="translate(1271.03,518.26) scale(1.01,1.04)" text-anchor="middle">X</text>
<text transform="translate(1331.89,518.26) scale(1.01,1.04)" text-anchor="middle">X</text>
<text transform="translate(1388.86,518.26) scale(1.01,1.04)" text-anchor="middle">X</text>
<text transform="translate(178.34,554.14) scale(1.01,1.04)" text-anchor="middle">X</text>
<text transform="translate(235.41,554.14) scale(1.01,1.04)" text-anchor="middle">X</text>
<text transform="translate(295.07,554.14) scale(1.01,1.04)" text-anchor="middle">X</text>
<text transform="translate(352.21,554.14) scale(1.01,1.04)" text-anchor="middle">X</text>
<text transform="translate(408.79,554.14) scale(1.01,1.04)" text-anchor="middle">X</text>
<text transform="translate(466.28,554.14) scale(1.01,1.04)" text-anchor="middle">X</text>
<text transform="translate(523.26,554.14) scale(1.01,1.04)" text-anchor="middle">X</text>
<text transform="translate(580.22,554.14) scale(1.01,1.04)" text-anchor="middle">X</text>
<text transform="translate(641.19,554.14) scale(1.01,1.04)" text-anchor="middle">X</text>
<text transform="translate(696.17,554.84) scale(1.016,1.06)" text-anchor="middle">0.54</text>
<text transform="translate(811.79,554.14) scale(1.01,1.04)" text-anchor="middle">X</text>
<text transform="translate(868.78,554.14) scale(1.01,1.04)" text-anchor="middle">X</text>
<text transform="translate(925.71,554.14) scale(1.01,1.04)" text-anchor="middle">X</text>
<text transform="translate(985.98,554.14) scale(1.01,1.04)" text-anchor="middle">X</text>
<text transform="translate(1043.39,554.14) scale(1.01,1.04)" text-anchor="middle">X</text>
<text transform="translate(1100.38,554.14) scale(1.01,1.04)" text-anchor="middle">X</text>
<text transform="translate(1157.11,554.14) scale(1.01,1.04)" text-anchor="middle">X</text>
<text transform="translate(1214.24,554.14) scale(1.01,1.04)" text-anchor="middle">X</text>
<text transform="translate(1271.03,554.14) scale(1.01,1.04)" text-anchor="middle">X</text>
<text transform="translate(1331.89,554.14) scale(1.01,1.04)" text-anchor="middle">X</text>
<text transform="translate(1388.86,554.14) scale(1.01,1.04)" text-anchor="middle">X</text>
<text transform="translate(178.34,589.96) scale(1.01,1.04)" text-anchor="middle">X</text>
<text transform="translate(235.41,589.96) scale(1.01,1.04)" text-anchor="middle">X</text>
<text transform="translate(295.07,589.96) scale(1.01,1.04)" text-anchor="middle">X</text>
<text transform="translate(352.21,589.96) scale(1.01,1.04)" text-anchor="middle">X</text>
<text transform="translate(408.79,589.96) scale(1.01,1.04)" text-anchor="middle">X</text>
<text transform="translate(466.28,589.96) scale(1.01,1.04)" text-anchor="middle">X</text>
<text transform="translate(523.26,589.96) scale(1.01,1.04)" text-anchor="middle">X</text>
<text transform="translate(578.62,590.66) scale(1.016,1.06)" text-anchor="middle">0.43</text>
<text transform="translate(641.19,589.96) scale(1.01,1.04)" text-anchor="middle">X</text>
<text transform="translate(697.77,589.96) scale(1.01,1.04)" text-anchor="middle">X</text>
<text transform="translate(754.76,589.96) scale(1.01,1.04)" text-anchor="middle">X</text>
<text transform="translate(867.18,590.66) scale(1.016,1.06)" text-anchor="middle">0.46</text>
<text transform="translate(925.71,589.96) scale(1.01,1.04)" text-anchor="middle">X</text>
<text transform="translate(985.98,589.96) scale(1.01,1.04)" text-anchor="middle">X</text>
<text transform="translate(1043.39,589.96) scale(1.01,1.04)" text-anchor="middle">X</text>
<text transform="translate(1100.38,589.96) scale(1.01,1.04)" text-anchor="middle">X</text>
<text transform="translate(1157.11,589.96) scale(1.01,1.04)" text-anchor="middle">X</text>
<text transform="translate(1214.24,589.96) scale(1.01,1.04)" text-anchor="middle">X</text>
<text transform="translate(1271.03,589.96) scale(1.01,1.04)" text-anchor="middle">X</text>
<text transform="translate(1331.89,589.96) scale(1.01,1.04)" text-anchor="middle">X</text>
<text transform="translate(1388.86,589.96) scale(1.01,1.04)" text-anchor="middle">X</text>
<text transform="translate(178.34,625.09) scale(1.01,1.04)" text-anchor="middle">X</text>
<text transform="translate(235.41,625.09) scale(1.01,1.04)" text-anchor="middle">X</text>
<text transform="translate(295.07,625.09) scale(1.01,1.04)" text-anchor="middle">X</text>
<text transform="translate(352.21,625.09) scale(1.01,1.04)" text-anchor="middle">X</text>
<text transform="translate(408.79,625.09) scale(1.01,1.04)" text-anchor="middle">X</text>
<text transform="translate(466.28,625.09) scale(1.01,1.04)" text-anchor="middle">X</text>
<text transform="translate(523.26,625.09) scale(1.01,1.04)" text-anchor="middle">X</text>
<text transform="translate(580.22,625.09) scale(1.01,1.04)" text-anchor="middle">X</text>
<text transform="translate(641.19,625.09) scale(1.01,1.04)" text-anchor="middle">X</text>
<text transform="translate(697.77,625.09) scale(1.01,1.04)" text-anchor="middle">X</text>
<text transform="translate(754.76,625.09) scale(1.01,1.04)" text-anchor="middle">X</text>
<text transform="translate(810.19,625.79) scale(1.016,1.06)" text-anchor="middle">0.46</text>
<text transform="translate(925.71,625.09) scale(1.01,1.04)" text-anchor="middle">X</text>
<text transform="translate(985.98,625.09) scale(1.01,1.04)" text-anchor="middle">X</text>
<text transform="translate(1043.39,625.09) scale(1.01,1.04)" text-anchor="middle">X</text>
<text transform="translate(1100.38,625.09) scale(1.01,1.04)" text-anchor="middle">X</text>
<text transform="translate(1157.11,625.09) scale(1.01,1.04)" text-anchor="middle">X</text>
<text transform="translate(1214.24,625.09) scale(1.01,1.04)" text-anchor="middle">X</text>
<text transform="translate(1271.03,625.09) scale(1.01,1.04)" text-anchor="middle">X</text>
<text transform="translate(1331.89,625.09) scale(1.01,1.04)" text-anchor="middle">X</text>
<text transform="translate(1388.86,625.09) scale(1.01,1.04)" text-anchor="middle">X</text>
<text transform="translate(178.34,660.87) scale(1.01,1.04)" text-anchor="middle">X</text>
<text transform="translate(235.41,660.87) scale(1.01,1.04)" text-anchor="middle">X</text>
<text transform="translate(295.07,660.87) scale(1.01,1.04)" text-anchor="middle">X</text>
<text transform="translate(352.21,660.87) scale(1.01,1.04)" text-anchor="middle">X</text>
<text transform="translate(408.79,660.87) scale(1.01,1.04)" text-anchor="middle">X</text>
<text transform="translate(466.28,660.87) scale(1.01,1.04)" text-anchor="middle">X</text>
<text transform="translate(523.26,660.87) scale(1.01,1.04)" text-anchor="middle">X</text>
<text transform="translate(580.22,660.87) scale(1.01,1.04)" text-anchor="middle">X</text>
<text transform="translate(641.19,660.87) scale(1.01,1.04)" text-anchor="middle">X</text>
<text transform="translate(696.17,661.57) scale(1.016,1.06)" text-anchor="middle">0.42</text>
<text transform="translate(754.76,660.87) scale(1.01,1.04)" text-anchor="middle">X</text>
<text transform="translate(811.79,660.87) scale(1.01,1.04)" text-anchor="middle">X</text>
<text transform="translate(868.78,660.87) scale(1.01,1.04)" text-anchor="middle">X</text>
<text transform="translate(985.98,660.87) scale(1.01,1.04)" text-anchor="middle">X</text>
<text transform="translate(1043.39,660.87) scale(1.01,1.04)" text-anchor="middle">X</text>
<text transform="translate(1100.38,660.87) scale(1.01,1.04)" text-anchor="middle">X</text>
<text transform="translate(1155.51,661.57) scale(1.016,1.06)" text-anchor="middle">0.89</text>
<text transform="translate(1214.24,660.87) scale(1.01,1.04)" text-anchor="middle">X</text>
<text transform="translate(1271.03,660.87) scale(1.01,1.04)" text-anchor="middle">X</text>
<text transform="translate(1331.89,660.87) scale(1.01,1.04)" text-anchor="middle">X</text>
<text transform="translate(1388.86,660.87) scale(1.01,1.04)" text-anchor="middle">X</text>
<text transform="translate(178.34,696.29) scale(1.01,1.04)" text-anchor="middle">X</text>
<text transform="translate(235.41,696.29) scale(1.01,1.04)" text-anchor="middle">X</text>
<text transform="translate(295.07,696.29) scale(1.01,1.04)" text-anchor="middle">X</text>
<text transform="translate(352.21,696.29) scale(1.01,1.04)" text-anchor="middle">X</text>
<text transform="translate(408.79,696.29) scale(1.01,1.04)" text-anchor="middle">X</text>
<text transform="translate(466.28,696.29) scale(1.01,1.04)" text-anchor="middle">X</text>
<text transform="translate(523.26,696.29) scale(1.01,1.04)" text-anchor="middle">X</text>
<text transform="translate(578.62,696.99) scale(1.016,1.06)" text-anchor="middle">0.59</text>
<text transform="translate(641.19,696.29) scale(1.01,1.04)" text-anchor="middle">X</text>
<text transform="translate(697.77,696.29) scale(1.01,1.04)" text-anchor="middle">X</text>
<text transform="translate(754.76,696.29) scale(1.01,1.04)" text-anchor="middle">X</text>
<text transform="translate(811.79,696.29) scale(1.01,1.04)" text-anchor="middle">X</text>
<text transform="translate(868.78,696.29) scale(1.01,1.04)" text-anchor="middle">X</text>
<text transform="translate(925.71,696.29) scale(1.01,1.04)" text-anchor="middle">X</text>
<text transform="translate(1043.39,696.29) scale(1.01,1.04)" text-anchor="middle">X</text>
<text transform="translate(1100.38,696.29) scale(1.01,1.04)" text-anchor="middle">X</text>
<text transform="translate(1157.11,696.29) scale(1.01,1.04)" text-anchor="middle">X</text>
<text transform="translate(1214.24,696.29) scale(1.01,1.04)" text-anchor="middle">X</text>
<text transform="translate(1271.03,696.29) scale(1.01,1.04)" text-anchor="middle">X</text>
<text transform="translate(1331.89,696.29) scale(1.01,1.04)" text-anchor="middle">X</text>
<text transform="translate(1388.86,696.29) scale(1.01,1.04)" text-anchor="middle">X</text>
<text transform="translate(178.34,731.95) scale(1.01,1.04)" text-anchor="middle">X</text>
<text transform="translate(235.41,731.95) scale(1.01,1.04)" text-anchor="middle">X</text>
<text transform="translate(295.07,731.95) scale(1.01,1.04)" text-anchor="middle">X</text>
<text transform="translate(352.21,731.95) scale(1.01,1.04)" text-anchor="middle">X</text>
<text transform="translate(408.79,731.95) scale(1.01,1.04)" text-anchor="middle">X</text>
<text transform="translate(466.28,731.95) scale(1.01,1.04)" text-anchor="middle">X</text>
<text transform="translate(523.26,731.95) scale(1.01,1.04)" text-anchor="middle">X</text>
<text transform="translate(580.22,731.95) scale(1.01,1.04)" text-anchor="middle">X</text>
<text transform="translate(641.19,731.95) scale(1.01,1.04)" text-anchor="middle">X</text>
<text transform="translate(697.77,731.95) scale(1.01,1.04)" text-anchor="middle">X</text>
<text transform="translate(754.76,731.95) scale(1.01,1.04)" text-anchor="middle">X</text>
<text transform="translate(811.79,731.95) scale(1.01,1.04)" text-anchor="middle">X</text>
<text transform="translate(868.78,731.95) scale(1.01,1.04)" text-anchor="middle">X</text>
<text transform="translate(925.71,731.95) scale(1.01,1.04)" text-anchor="middle">X</text>
<text transform="translate(985.98,731.95) scale(1.01,1.04)" text-anchor="middle">X</text>
<text transform="translate(1100.38,731.95) scale(1.01,1.04)" text-anchor="middle">X</text>
<text transform="translate(1157.11,731.95) scale(1.01,1.04)" text-anchor="middle">X</text>
<text transform="translate(1214.24,731.95) scale(1.01,1.04)" text-anchor="middle">X</text>
<text transform="translate(1269.43,732.65) scale(1.016,1.06)" text-anchor="middle">-0.43</text>
<text transform="translate(1331.89,731.95) scale(1.01,1.04)" text-anchor="middle">X</text>
<text transform="translate(1387.26,732.65) scale(1.016,1.06)" text-anchor="middle">0.66</text>
<text transform="translate(178.34,770.91) scale(1.01,1.04)" text-anchor="middle">X</text>
<text transform="translate(235.41,770.91) scale(1.01,1.04)" text-anchor="middle">X</text>
<text transform="translate(295.07,770.91) scale(1.01,1.04)" text-anchor="middle">X</text>
<text transform="translate(352.21,770.91) scale(1.01,1.04)" text-anchor="middle">X</text>
<text transform="translate(408.79,770.91) scale(1.01,1.04)" text-anchor="middle">X</text>
<text transform="translate(466.28,770.91) scale(1.01,1.04)" text-anchor="middle">X</text>
<text transform="translate(523.26,770.91) scale(1.01,1.04)" text-anchor="middle">X</text>
<text transform="translate(580.22,770.91) scale(1.01,1.04)" text-anchor="middle">X</text>
<text transform="translate(641.19,770.91) scale(1.01,1.04)" text-anchor="middle">X</text>
<text transform="translate(697.77,770.91) scale(1.01,1.04)" text-anchor="middle">X</text>
<text transform="translate(754.76,770.91) scale(1.01,1.04)" text-anchor="middle">X</text>
<text transform="translate(811.79,770.91) scale(1.01,1.04)" text-anchor="middle">X</text>
<text transform="translate(868.78,770.91) scale(1.01,1.04)" text-anchor="middle">X</text>
<text transform="translate(925.71,770.91) scale(1.01,1.04)" text-anchor="middle">X</text>
<text transform="translate(985.98,770.91) scale(1.01,1.04)" text-anchor="middle">X</text>
<text transform="translate(1043.39,770.91) scale(1.01,1.04)" text-anchor="middle">X</text>
<text transform="translate(1157.11,770.91) scale(1.01,1.04)" text-anchor="middle">X</text>
<text transform="translate(1214.24,770.91) scale(1.01,1.04)" text-anchor="middle">X</text>
<text transform="translate(1269.43,771.61) scale(1.016,1.06)" text-anchor="middle">0.44</text>
<text transform="translate(1331.89,770.91) scale(1.01,1.04)" text-anchor="middle">X</text>
<text transform="translate(1388.86,770.91) scale(1.01,1.04)" text-anchor="middle">X</text>
<text transform="translate(178.34,807.08) scale(1.01,1.04)" text-anchor="middle">X</text>
<text transform="translate(235.41,807.08) scale(1.01,1.04)" text-anchor="middle">X</text>
<text transform="translate(295.07,807.08) scale(1.01,1.04)" text-anchor="middle">X</text>
<text transform="translate(352.21,807.08) scale(1.01,1.04)" text-anchor="middle">X</text>
<text transform="translate(408.79,807.08) scale(1.01,1.04)" text-anchor="middle">X</text>
<text transform="translate(466.28,807.08) scale(1.01,1.04)" text-anchor="middle">X</text>
<text transform="translate(523.26,807.08) scale(1.01,1.04)" text-anchor="middle">X</text>
<text transform="translate(580.22,807.08) scale(1.01,1.04)" text-anchor="middle">X</text>
<text transform="translate(641.19,807.08) scale(1.01,1.04)" text-anchor="middle">X</text>
<text transform="translate(697.77,807.08) scale(1.01,1.04)" text-anchor="middle">X</text>
<text transform="translate(754.76,807.08) scale(1.01,1.04)" text-anchor="middle">X</text>
<text transform="translate(811.79,807.08) scale(1.01,1.04)" text-anchor="middle">X</text>
<text transform="translate(868.78,807.08) scale(1.01,1.04)" text-anchor="middle">X</text>
<text transform="translate(924.11,807.78) scale(1.016,1.06)" text-anchor="middle">0.89</text>
<text transform="translate(985.98,807.08) scale(1.01,1.04)" text-anchor="middle">X</text>
<text transform="translate(1043.39,807.08) scale(1.01,1.04)" text-anchor="middle">X</text>
<text transform="translate(1100.38,807.08) scale(1.01,1.04)" text-anchor="middle">X</text>
<text transform="translate(1214.24,807.08) scale(1.01,1.04)" text-anchor="middle">X</text>
<text transform="translate(1271.03,807.08) scale(1.01,1.04)" text-anchor="middle">X</text>
<text transform="translate(1331.89,807.08) scale(1.01,1.04)" text-anchor="middle">X</text>
<text transform="translate(1388.86,807.08) scale(1.01,1.04)" text-anchor="middle">X</text>
<text transform="translate(178.34,841.86) scale(1.01,1.04)" text-anchor="middle">X</text>
<text transform="translate(235.41,841.86) scale(1.01,1.04)" text-anchor="middle">X</text>
<text transform="translate(295.07,841.86) scale(1.01,1.04)" text-anchor="middle">X</text>
<text transform="translate(352.21,841.86) scale(1.01,1.04)" text-anchor="middle">X</text>
<text transform="translate(408.79,841.86) scale(1.01,1.04)" text-anchor="middle">X</text>
<text transform="translate(466.28,841.86) scale(1.01,1.04)" text-anchor="middle">X</text>
<text transform="translate(523.26,841.86) scale(1.01,1.04)" text-anchor="middle">X</text>
<text transform="translate(580.22,841.86) scale(1.01,1.04)" text-anchor="middle">X</text>
<text transform="translate(641.19,841.86) scale(1.01,1.04)" text-anchor="middle">X</text>
<text transform="translate(697.77,841.86) scale(1.01,1.04)" text-anchor="middle">X</text>
<text transform="translate(754.76,841.86) scale(1.01,1.04)" text-anchor="middle">X</text>
<text transform="translate(811.79,841.86) scale(1.01,1.04)" text-anchor="middle">X</text>
<text transform="translate(868.78,841.86) scale(1.01,1.04)" text-anchor="middle">X</text>
<text transform="translate(925.71,841.86) scale(1.01,1.04)" text-anchor="middle">X</text>
<text transform="translate(985.98,841.86) scale(1.01,1.04)" text-anchor="middle">X</text>
<text transform="translate(1043.39,841.86) scale(1.01,1.04)" text-anchor="middle">X</text>
<text transform="translate(1100.38,841.86) scale(1.01,1.04)" text-anchor="middle">X</text>
<text transform="translate(1157.11,841.86) scale(1.01,1.04)" text-anchor="middle">X</text>
<text transform="translate(1269.43,842.56) scale(1.016,1.06)" text-anchor="middle">0.82</text>
<text transform="translate(1331.89,841.86) scale(1.01,1.04)" text-anchor="middle">X</text>
<text transform="translate(1388.86,841.86) scale(1.01,1.04)" text-anchor="middle">X</text>
<text transform="translate(178.34,878.28) scale(1.01,1.04)" text-anchor="middle">X</text>
<text transform="translate(235.41,878.28) scale(1.01,1.04)" text-anchor="middle">X</text>
<text transform="translate(295.07,878.28) scale(1.01,1.04)" text-anchor="middle">X</text>
<text transform="translate(352.21,878.28) scale(1.01,1.04)" text-anchor="middle">X</text>
<text transform="translate(408.79,878.28) scale(1.01,1.04)" text-anchor="middle">X</text>
<text transform="translate(466.28,878.28) scale(1.01,1.04)" text-anchor="middle">X</text>
<text transform="translate(523.26,878.28) scale(1.01,1.04)" text-anchor="middle">X</text>
<text transform="translate(580.22,878.28) scale(1.01,1.04)" text-anchor="middle">X</text>
<text transform="translate(641.19,878.28) scale(1.01,1.04)" text-anchor="middle">X</text>
<text transform="translate(697.77,878.28) scale(1.01,1.04)" text-anchor="middle">X</text>
<text transform="translate(754.76,878.28) scale(1.01,1.04)" text-anchor="middle">X</text>
<text transform="translate(811.79,878.28) scale(1.01,1.04)" text-anchor="middle">X</text>
<text transform="translate(868.78,878.28) scale(1.01,1.04)" text-anchor="middle">X</text>
<text transform="translate(925.71,878.28) scale(1.01,1.04)" text-anchor="middle">X</text>
<text transform="translate(985.98,878.28) scale(1.01,1.04)" text-anchor="middle">X</text>
<text transform="translate(1041.79,878.98) scale(1.016,1.06)" text-anchor="middle">-0.43</text>
<text transform="translate(1098.78,878.98) scale(1.016,1.06)" text-anchor="middle">0.44</text>
<text transform="translate(1157.11,878.28) scale(1.01,1.04)" text-anchor="middle">X</text>
<text transform="translate(1212.64,878.98) scale(1.016,1.06)" text-anchor="middle">0.82</text>
<text transform="translate(1331.89,878.28) scale(1.01,1.04)" text-anchor="middle">X</text>
<text transform="translate(1388.86,878.28) scale(1.01,1.04)" text-anchor="middle">X</text>
<text transform="translate(178.34,913.96) scale(1.01,1.04)" text-anchor="middle">X</text>
<text transform="translate(235.41,913.96) scale(1.01,1.04)" text-anchor="middle">X</text>
<text transform="translate(295.07,913.96) scale(1.01,1.04)" text-anchor="middle">X</text>
<text transform="translate(352.21,913.96) scale(1.01,1.04)" text-anchor="middle">X</text>
<text transform="translate(408.79,913.96) scale(1.01,1.04)" text-anchor="middle">X</text>
<text transform="translate(466.28,913.96) scale(1.01,1.04)" text-anchor="middle">X</text>
<text transform="translate(523.26,913.96) scale(1.01,1.04)" text-anchor="middle">X</text>
<text transform="translate(580.22,913.96) scale(1.01,1.04)" text-anchor="middle">X</text>
<text transform="translate(641.19,913.96) scale(1.01,1.04)" text-anchor="middle">X</text>
<text transform="translate(697.77,913.96) scale(1.01,1.04)" text-anchor="middle">X</text>
<text transform="translate(754.76,913.96) scale(1.01,1.04)" text-anchor="middle">X</text>
<text transform="translate(811.79,913.96) scale(1.01,1.04)" text-anchor="middle">X</text>
<text transform="translate(868.78,913.96) scale(1.01,1.04)" text-anchor="middle">X</text>
<text transform="translate(925.71,913.96) scale(1.01,1.04)" text-anchor="middle">X</text>
<text transform="translate(985.98,913.96) scale(1.01,1.04)" text-anchor="middle">X</text>
<text transform="translate(1043.39,913.96) scale(1.01,1.04)" text-anchor="middle">X</text>
<text transform="translate(1100.38,913.96) scale(1.01,1.04)" text-anchor="middle">X</text>
<text transform="translate(1157.11,913.96) scale(1.01,1.04)" text-anchor="middle">X</text>
<text transform="translate(1214.24,913.96) scale(1.01,1.04)" text-anchor="middle">X</text>
<text transform="translate(1271.03,913.96) scale(1.01,1.04)" text-anchor="middle">X</text>
<text transform="translate(1387.26,914.66) scale(1.016,1.06)" text-anchor="middle">0.72</text>
<text transform="translate(178.34,948.94) scale(1.01,1.04)" text-anchor="middle">X</text>
<text transform="translate(235.41,948.94) scale(1.01,1.04)" text-anchor="middle">X</text>
<text transform="translate(295.07,948.94) scale(1.01,1.04)" text-anchor="middle">X</text>
<text transform="translate(352.21,948.94) scale(1.01,1.04)" text-anchor="middle">X</text>
<text transform="translate(408.79,948.94) scale(1.01,1.04)" text-anchor="middle">X</text>
<text transform="translate(466.28,948.94) scale(1.01,1.04)" text-anchor="middle">X</text>
<text transform="translate(523.26,948.94) scale(1.01,1.04)" text-anchor="middle">X</text>
<text transform="translate(580.22,948.94) scale(1.01,1.04)" text-anchor="middle">X</text>
<text transform="translate(641.19,948.94) scale(1.01,1.04)" text-anchor="middle">X</text>
<text transform="translate(697.77,948.94) scale(1.01,1.04)" text-anchor="middle">X</text>
<text transform="translate(754.76,948.94) scale(1.01,1.04)" text-anchor="middle">X</text>
<text transform="translate(811.79,948.94) scale(1.01,1.04)" text-anchor="middle">X</text>
<text transform="translate(868.78,948.94) scale(1.01,1.04)" text-anchor="middle">X</text>
<text transform="translate(925.71,948.94) scale(1.01,1.04)" text-anchor="middle">X</text>
<text transform="translate(985.98,948.94) scale(1.01,1.04)" text-anchor="middle">X</text>
<text transform="translate(1041.79,949.64) scale(1.016,1.06)" text-anchor="middle">0.66</text>
<text transform="translate(1100.38,948.94) scale(1.01,1.04)" text-anchor="middle">X</text>
<text transform="translate(1157.11,948.94) scale(1.01,1.04)" text-anchor="middle">X</text>
<text transform="translate(1214.24,948.94) scale(1.01,1.04)" text-anchor="middle">X</text>
<text transform="translate(1271.03,948.94) scale(1.01,1.04)" text-anchor="middle">X</text>
<text transform="translate(1330.29,949.64) scale(1.016,1.06)" text-anchor="middle">0.72</text>
<text transform="translate(122.88,194.76) scale(0.984,1.07)" text-anchor="end">SOD</text>
<text transform="translate(122.82,230.79) scale(1.018,1.07)" text-anchor="end">POD</text>
<text transform="translate(124.00,265.87) scale(1.070,1.07)" text-anchor="end">CAT</text>
<text transform="translate(126.90,301.89) scale(1.063,1.07)" text-anchor="end">APX</text>
<text transform="translate(122.51,337.92) scale(1.013,1.07)" text-anchor="end">Proline</text>
<text transform="translate(123.70,372.89) scale(1.012,1.07)" text-anchor="end">CH T</text>
<text transform="translate(122.00,411.90) scale(0.994,1.07)" text-anchor="end">CH a</text>
<text transform="translate(124.72,448.01) scale(1.021,1.07)" text-anchor="end">CH b</text>
<text transform="translate(122.36,483.73) scale(1.061,1.07)" text-anchor="end">Car</text>
<text transform="translate(122.00,519.16) scale(1.025,1.07)" text-anchor="end">shoot/root</text>
<text transform="translate(123.05,555.04) scale(1.048,1.07)" text-anchor="end">leaf TD</text>
<text transform="translate(123.04,590.86) scale(1.044,1.07)" text-anchor="end">root TD</text>
<text transform="translate(124.47,625.99) scale(0.969,1.07)" text-anchor="end">SSI</text>
<text transform="translate(125.07,661.77) scale(1.070,1.07)" text-anchor="end">SGS</text>
<text transform="translate(125.04,697.19) scale(1.041,1.07)" text-anchor="end">NLGS</text>
<text transform="translate(125.03,732.85) scale(1.031,1.07)" text-anchor="end">GLLS</text>
<text transform="translate(122.82,771.81) scale(1.021,1.07)" text-anchor="end">Ht1</text>
<text transform="translate(123.33,807.98) scale(1.033,1.07)" text-anchor="end">Ht2</text>
<text transform="translate(122.51,842.76) scale(1.010,1.07)" text-anchor="end">LN1</text>
<text transform="translate(123.33,879.18) scale(1.026,1.07)" text-anchor="end">LN2</text>
<text transform="translate(122.45,914.86) scale(0.946,1.07)" text-anchor="end">LL1</text>
<text transform="translate(124.30,949.84) scale(1.002,1.07)" text-anchor="end">LL2</text>
<text transform="translate(186.00,973.05) rotate(-90) scale(0.999,1.07)" text-anchor="end">SOD</text>
<text transform="translate(243.20,972.95) rotate(-90) scale(1.051,1.07)" text-anchor="end">POD</text>
<text transform="translate(303.20,972.80) rotate(-90) scale(1.070,1.07)" text-anchor="end">CAT</text>
<text transform="translate(360.70,974.70) rotate(-90) scale(1.039,1.07)" text-anchor="end">APX</text>
<text transform="translate(417.30,974.48) rotate(-90) scale(1.016,1.07)" text-anchor="end">Proline</text>
<text transform="translate(474.00,972.80) rotate(-90) scale(1.017,1.07)" text-anchor="end">CH T</text>
<text transform="translate(531.50,973.70) rotate(-90) scale(0.997,1.07)" text-anchor="end">CH a</text>
<text transform="translate(588.30,972.09) rotate(-90) scale(1.006,1.07)" text-anchor="end">CH b</text>
<text transform="translate(648.90,974.95) rotate(-90) scale(1.046,1.07)" text-anchor="end">Car</text>
<text transform="translate(706.40,975.00) rotate(-90) scale(1.025,1.07)" text-anchor="end">shoot/root</text>
<text transform="translate(763.20,972.89) rotate(-90) scale(1.056,1.07)" text-anchor="end">leaf TD</text>
<text transform="translate(819.90,972.89) rotate(-90) scale(1.054,1.07)" text-anchor="end">root TD</text>
<text transform="translate(877.00,972.46) rotate(-90) scale(0.945,1.07)" text-anchor="end">SSI</text>
<text transform="translate(933.70,971.84) rotate(-90) scale(0.965,1.07)" text-anchor="end">SGS</text>
<text transform="translate(994.00,972.11) rotate(-90) scale(0.995,1.07)" text-anchor="end">NLGS</text>
<text transform="translate(1051.20,972.43) rotate(-90) scale(0.968,1.07)" text-anchor="end">GLLS</text>
<text transform="translate(1108.30,973.91) rotate(-90) scale(1.043,1.07)" text-anchor="end">Ht1</text>
<text transform="translate(1165.30,973.96) rotate(-90) scale(1.042,1.07)" text-anchor="end">Ht2</text>
<text transform="translate(1222.10,973.98) rotate(-90) scale(1.012,1.07)" text-anchor="end">LN1</text>
<text transform="translate(1279.10,973.99) rotate(-90) scale(1.012,1.07)" text-anchor="end">LN2</text>
<text transform="translate(1339.50,974.09) rotate(-90) scale(0.955,1.07)" text-anchor="end">LL1</text>
<text transform="translate(1396.70,973.84) rotate(-90) scale(0.960,1.07)" text-anchor="end">LL2</text>
</svg></body></html>
